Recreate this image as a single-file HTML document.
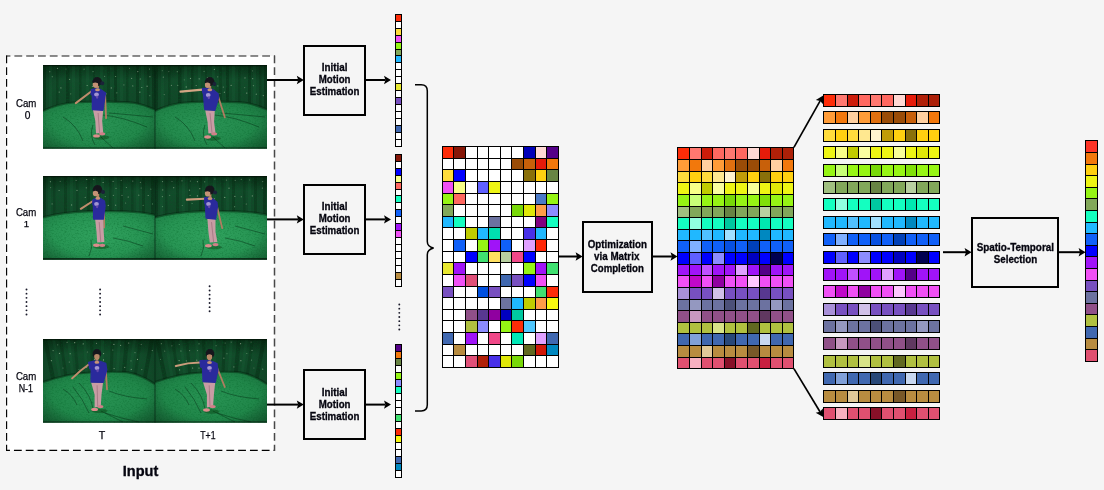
<!DOCTYPE html>
<html lang="en"><head><meta charset="utf-8"><title>Pipeline overview</title>
<style>html,body{margin:0;padding:0;background:#f5f5f5;}body{width:1104px;height:490px;overflow:hidden;}svg{display:block;font-family:'Liberation Sans', Arial, Helvetica, sans-serif;}</style>
</head><body>
<svg width="1104" height="490" viewBox="0 0 1104 490">
<defs>
<clipPath id="fclip"><rect x="0" y="0" width="112.00" height="83.80"/></clipPath>
<linearGradient id="curt" x1="0" y1="0" x2="0" y2="1"><stop offset="0" stop-color="#0a3219"/><stop offset="0.18" stop-color="#134b2b"/><stop offset="0.55" stop-color="#114527"/></linearGradient>
<radialGradient id="floor0" cx="0.45" cy="0.5" r="0.7"><stop offset="0" stop-color="#2a9556"/><stop offset="0.6" stop-color="#22884b"/><stop offset="1" stop-color="#196e3c"/></radialGradient>
<radialGradient id="floor1" cx="0.5" cy="0.5" r="0.7"><stop offset="0" stop-color="#30a25e"/><stop offset="0.6" stop-color="#279453"/><stop offset="1" stop-color="#1c7a43"/></radialGradient>
<radialGradient id="floor2" cx="0.5" cy="0.5" r="0.7"><stop offset="0" stop-color="#289454"/><stop offset="0.6" stop-color="#208649"/><stop offset="1" stop-color="#186a3a"/></radialGradient>
<radialGradient id="vig" cx="0.5" cy="0.5" r="0.75"><stop offset="0.62" stop-color="#000" stop-opacity="0"/><stop offset="1" stop-color="#001804" stop-opacity="0.3"/></radialGradient>
<filter id="grain" x="0" y="0" width="100%" height="100%"><feTurbulence type="fractalNoise" baseFrequency="0.55 0.7" numOctaves="2" seed="3" result="n"/><feColorMatrix in="n" type="matrix" values="0 0 0 0 0  0 0 0 0 0.12  0 0 0 0 0.02  0 0 0 1.6 -0.75"/></filter>
<filter id="soft" x="-10%" y="-10%" width="120%" height="120%"><feGaussianBlur stdDeviation="0.45"/></filter>
</defs>
<rect width="1104" height="490" fill="#f5f5f5"/>
<rect x="6.5" y="56" width="268" height="394.4" fill="#fff"/>
<path d="M6.2 56H274.9" fill="none" stroke="#1a1a1a" stroke-width="1.1" stroke-dasharray="7.8 4" stroke-dashoffset="3.6"/>
<path d="M6.2 450.4H274.9" fill="none" stroke="#000" stroke-width="1.2" stroke-dasharray="7.8 4" stroke-dashoffset="4.05"/>
<path d="M6.6 55.4V450.9" fill="none" stroke="#000" stroke-width="1.15" stroke-dasharray="7.8 4"/>
<path d="M274.5 55.4V450.9" fill="none" stroke="#484848" stroke-width="1.5" stroke-dasharray="7.8 4"/>
<g transform="translate(43.00 65.00)" clip-path="url(#fclip)">
<rect x="0" y="0" width="112.00" height="83.80" fill="url(#curt)"/>
<polygon points="0.0,0 3.0,0 3.0,50.0 0.0,50.0" fill="#03200c" opacity="0.35"/>
<polygon points="13.0,0 15.5,0 15.5,50.0 13.0,50.0" fill="#03200c" opacity="0.24"/>
<polygon points="23.0,0 26.5,0 26.5,50.0 23.0,50.0" fill="#03200c" opacity="0.35"/>
<polygon points="36.0,0 38.5,0 38.5,50.0 36.0,50.0" fill="#03200c" opacity="0.28"/>
<polygon points="50.0,0 52.0,0 52.0,50.0 50.0,50.0" fill="#03200c" opacity="0.21"/>
<polygon points="64.0,0 67.0,0 67.0,50.0 64.0,50.0" fill="#03200c" opacity="0.24"/>
<polygon points="71.0,0 74.0,0 74.0,50.0 71.0,50.0" fill="#03200c" opacity="0.35"/>
<polygon points="83.0,0 85.5,0 85.5,50.0 83.0,50.0" fill="#03200c" opacity="0.24"/>
<polygon points="93.0,0 96.0,0 96.0,50.0 93.0,50.0" fill="#03200c" opacity="0.32"/>
<polygon points="104.0,0 106.5,0 106.5,50.0 104.0,50.0" fill="#03200c" opacity="0.24"/>
<polygon points="109.0,0 112.0,0 112.0,50.0 109.0,50.0" fill="#03200c" opacity="0.35"/>
<polygon points="6.0,0 9.0,0 9.0,50.0 6.0,50.0" fill="#2c8050" opacity="0.12"/>
<polygon points="29.0,0 32.0,0 32.0,50.0 29.0,50.0" fill="#2c8050" opacity="0.12"/>
<polygon points="43.0,0 46.0,0 46.0,50.0 43.0,50.0" fill="#2c8050" opacity="0.12"/>
<polygon points="57.0,0 60.0,0 60.0,50.0 57.0,50.0" fill="#2c8050" opacity="0.12"/>
<polygon points="77.0,0 80.0,0 80.0,50.0 77.0,50.0" fill="#2c8050" opacity="0.12"/>
<polygon points="98.0,0 101.0,0 101.0,50.0 98.0,50.0" fill="#2c8050" opacity="0.12"/>
<circle cx="6.8" cy="6.7" r="0.62" fill="#b8d0b0" opacity="0.51"/>
<circle cx="9.3" cy="11.7" r="0.62" fill="#b8d0b0" opacity="0.53"/>
<circle cx="14.5" cy="3.4" r="0.62" fill="#b8d0b0" opacity="0.63"/>
<circle cx="17.9" cy="22.9" r="0.62" fill="#b8d0b0" opacity="0.58"/>
<circle cx="16.2" cy="27.1" r="0.62" fill="#b8d0b0" opacity="0.53"/>
<circle cx="23.0" cy="4.0" r="0.62" fill="#b8d0b0" opacity="0.36"/>
<circle cx="26.6" cy="14.4" r="0.62" fill="#b8d0b0" opacity="0.53"/>
<circle cx="27.7" cy="28.8" r="0.62" fill="#b8d0b0" opacity="0.45"/>
<circle cx="41.1" cy="4.2" r="0.62" fill="#b8d0b0" opacity="0.37"/>
<circle cx="44.2" cy="20.5" r="0.62" fill="#b8d0b0" opacity="0.69"/>
<circle cx="50.0" cy="6.6" r="0.62" fill="#b8d0b0" opacity="0.51"/>
<circle cx="49.4" cy="21.5" r="0.62" fill="#b8d0b0" opacity="0.62"/>
<circle cx="51.8" cy="28.3" r="0.62" fill="#b8d0b0" opacity="0.69"/>
<circle cx="61.6" cy="11.4" r="0.62" fill="#b8d0b0" opacity="0.37"/>
<circle cx="63.2" cy="28.8" r="0.62" fill="#b8d0b0" opacity="0.42"/>
<circle cx="72.6" cy="11.5" r="0.62" fill="#b8d0b0" opacity="0.50"/>
<circle cx="68.3" cy="22.9" r="0.62" fill="#b8d0b0" opacity="0.63"/>
<circle cx="73.8" cy="27.8" r="0.62" fill="#b8d0b0" opacity="0.49"/>
<circle cx="80.9" cy="19.9" r="0.62" fill="#b8d0b0" opacity="0.44"/>
<circle cx="86.5" cy="3.3" r="0.62" fill="#b8d0b0" opacity="0.38"/>
<circle cx="88.6" cy="13.4" r="0.62" fill="#b8d0b0" opacity="0.48"/>
<circle cx="89.8" cy="20.9" r="0.62" fill="#b8d0b0" opacity="0.55"/>
<circle cx="94.8" cy="6.6" r="0.62" fill="#b8d0b0" opacity="0.64"/>
<circle cx="97.3" cy="14.0" r="0.62" fill="#b8d0b0" opacity="0.68"/>
<circle cx="98.8" cy="22.5" r="0.62" fill="#b8d0b0" opacity="0.56"/>
<circle cx="96.9" cy="27.2" r="0.62" fill="#b8d0b0" opacity="0.69"/>
<circle cx="106.5" cy="4.0" r="0.62" fill="#b8d0b0" opacity="0.64"/>
<circle cx="106.9" cy="11.7" r="0.62" fill="#b8d0b0" opacity="0.60"/>
<circle cx="104.1" cy="21.2" r="0.62" fill="#b8d0b0" opacity="0.65"/>
<circle cx="106.8" cy="30.7" r="0.62" fill="#b8d0b0" opacity="0.42"/>
<path d="M0 46 C8 42 16 38.5 30 37.5 C50 36 80 36.5 92 38 C100 39.5 106 42 112.0 44.5 V83.8 H0Z" fill="url(#floor0)"/>
<path d="M0 46 C8 42 16 38.5 30 37.5 C50 36 80 36.5 92 38 C100 39.5 106 42 112.0 44.5" fill="none" stroke="#03200c" stroke-width="2.2" opacity="0.45"/>
<path d="M60.0 50.0 Q80.0 52.0 104.0 62.0" fill="none" stroke="#063016" stroke-width="0.9" opacity="0.55"/>
<path d="M58.0 72.0 Q62.0 76.0 70.0 83.0" fill="none" stroke="#063016" stroke-width="0.9" opacity="0.55"/>
<path d="M50.0 60.0 Q46.0 70.0 52.0 80.0" fill="none" stroke="#063016" stroke-width="0.9" opacity="0.55"/>
<path d="M66.0 48.0 Q90.0 50.0 110.0 52.0" fill="none" stroke="#063016" stroke-width="0.9" opacity="0.55"/>
<path d="M20.0 52.0 Q34.0 60.0 40.0 76.0" fill="none" stroke="#063016" stroke-width="0.9" opacity="0.55"/>
<rect x="0" y="0" width="112.00" height="83.80" filter="url(#grain)" opacity="0.55"/>
<rect x="0" y="0" width="112.00" height="83.80" fill="url(#vig)"/>
<rect x="0" y="0" width="112.00" height="1.2" fill="#021006" opacity="0.7"/>
<rect x="0" y="82.20" width="112.00" height="1.6" fill="#021006" opacity="0.45"/>
<g filter="url(#soft)"><ellipse cx="58.4" cy="72.4" rx="8" ry="2.2" fill="#04280e" opacity="0.35"/><path d="M48.5 26.2L32.8 38.1" stroke="#c08c6c" stroke-width="2.0" stroke-linecap="round" fill="none"/><path d="M62.1 30.2L63.1 53.1" stroke="#b07c60" stroke-width="1.8" stroke-linecap="round" fill="none"/><polygon points="50.0,45.0 60.2,45.0 59.2,55.9 60.2,67.8 53.0,68.5 52.3,55.9" fill="#c89ca4"/><path d="M55.1 48.0L56.6 67.8" stroke="#8e6470" stroke-width="0.8" opacity="0.7"/><ellipse cx="53.5" cy="70.9" rx="3.4" ry="1.7" fill="#dc8c8c"/><ellipse cx="59.2" cy="68.8" rx="3" ry="1.6" fill="#d08088"/><rect x="53.1" y="20.2" width="2.8" height="4.5" fill="#b88464"/><polygon points="48.5,24.8 53.0,23.6 57.5,24.5 62.5,28.1 61.8,32.0 59.9,45.2 49.4,44.5 49.4,30.0 48.3,29.5" fill="#2a2b9c" stroke="#2a2b9c" stroke-width="1.4" stroke-linejoin="round"/><ellipse cx="54.5" cy="24.8" rx="2.4" ry="1.5" fill="#c89474"/><ellipse cx="53.5" cy="29.5" rx="2.4" ry="2" fill="#c0b0e0" opacity="0.8"/><ellipse cx="54.1" cy="32.1" rx="1.2" ry="1.6" fill="#7050b0" opacity="0.8"/><ellipse cx="54.2" cy="16.6" rx="4.7" ry="4.5" fill="#15171c"/><circle cx="59.2" cy="18.3" r="2" fill="#1a2038"/><ellipse cx="52.4" cy="19.6" rx="2.7" ry="3.3" fill="#c49274"/><path d="M49.7 17.4q2.5 -1.6 5.5 0.2" stroke="#15171c" stroke-width="1.6" fill="none"/></g>
</g>
<g transform="translate(155.00 65.00)" clip-path="url(#fclip)">
<rect x="0" y="0" width="112.00" height="83.80" fill="url(#curt)"/>
<polygon points="0.0,0 3.0,0 3.0,50.0 0.0,50.0" fill="#03200c" opacity="0.35"/>
<polygon points="13.0,0 15.5,0 15.5,50.0 13.0,50.0" fill="#03200c" opacity="0.24"/>
<polygon points="23.0,0 26.5,0 26.5,50.0 23.0,50.0" fill="#03200c" opacity="0.35"/>
<polygon points="36.0,0 38.5,0 38.5,50.0 36.0,50.0" fill="#03200c" opacity="0.28"/>
<polygon points="50.0,0 52.0,0 52.0,50.0 50.0,50.0" fill="#03200c" opacity="0.21"/>
<polygon points="64.0,0 67.0,0 67.0,50.0 64.0,50.0" fill="#03200c" opacity="0.24"/>
<polygon points="71.0,0 74.0,0 74.0,50.0 71.0,50.0" fill="#03200c" opacity="0.35"/>
<polygon points="83.0,0 85.5,0 85.5,50.0 83.0,50.0" fill="#03200c" opacity="0.24"/>
<polygon points="93.0,0 96.0,0 96.0,50.0 93.0,50.0" fill="#03200c" opacity="0.32"/>
<polygon points="104.0,0 106.5,0 106.5,50.0 104.0,50.0" fill="#03200c" opacity="0.24"/>
<polygon points="109.0,0 112.0,0 112.0,50.0 109.0,50.0" fill="#03200c" opacity="0.35"/>
<polygon points="6.0,0 9.0,0 9.0,50.0 6.0,50.0" fill="#2c8050" opacity="0.12"/>
<polygon points="29.0,0 32.0,0 32.0,50.0 29.0,50.0" fill="#2c8050" opacity="0.12"/>
<polygon points="43.0,0 46.0,0 46.0,50.0 43.0,50.0" fill="#2c8050" opacity="0.12"/>
<polygon points="57.0,0 60.0,0 60.0,50.0 57.0,50.0" fill="#2c8050" opacity="0.12"/>
<polygon points="77.0,0 80.0,0 80.0,50.0 77.0,50.0" fill="#2c8050" opacity="0.12"/>
<polygon points="98.0,0 101.0,0 101.0,50.0 98.0,50.0" fill="#2c8050" opacity="0.12"/>
<circle cx="7.3" cy="5.7" r="0.62" fill="#b8d0b0" opacity="0.40"/>
<circle cx="8.3" cy="12.1" r="0.62" fill="#b8d0b0" opacity="0.63"/>
<circle cx="9.2" cy="29.6" r="0.62" fill="#b8d0b0" opacity="0.40"/>
<circle cx="13.8" cy="6.6" r="0.62" fill="#b8d0b0" opacity="0.37"/>
<circle cx="16.4" cy="20.3" r="0.62" fill="#b8d0b0" opacity="0.49"/>
<circle cx="22.3" cy="6.7" r="0.62" fill="#b8d0b0" opacity="0.53"/>
<circle cx="29.3" cy="14.8" r="0.62" fill="#b8d0b0" opacity="0.39"/>
<circle cx="22.7" cy="20.3" r="0.62" fill="#b8d0b0" opacity="0.57"/>
<circle cx="27.9" cy="27.2" r="0.62" fill="#b8d0b0" opacity="0.41"/>
<circle cx="35.5" cy="13.4" r="0.62" fill="#b8d0b0" opacity="0.52"/>
<circle cx="31.2" cy="21.9" r="0.62" fill="#b8d0b0" opacity="0.69"/>
<circle cx="44.2" cy="13.8" r="0.62" fill="#b8d0b0" opacity="0.59"/>
<circle cx="41.2" cy="20.5" r="0.62" fill="#b8d0b0" opacity="0.53"/>
<circle cx="49.1" cy="6.3" r="0.62" fill="#b8d0b0" opacity="0.50"/>
<circle cx="52.5" cy="12.7" r="0.62" fill="#b8d0b0" opacity="0.49"/>
<circle cx="54.1" cy="27.7" r="0.62" fill="#b8d0b0" opacity="0.59"/>
<circle cx="59.4" cy="4.4" r="0.62" fill="#b8d0b0" opacity="0.57"/>
<circle cx="62.7" cy="11.8" r="0.62" fill="#b8d0b0" opacity="0.45"/>
<circle cx="62.8" cy="20.9" r="0.62" fill="#b8d0b0" opacity="0.68"/>
<circle cx="65.0" cy="28.5" r="0.62" fill="#b8d0b0" opacity="0.42"/>
<circle cx="68.3" cy="22.1" r="0.62" fill="#b8d0b0" opacity="0.47"/>
<circle cx="69.4" cy="27.2" r="0.62" fill="#b8d0b0" opacity="0.57"/>
<circle cx="76.1" cy="20.3" r="0.62" fill="#b8d0b0" opacity="0.63"/>
<circle cx="90.0" cy="12.9" r="0.62" fill="#b8d0b0" opacity="0.57"/>
<circle cx="89.7" cy="22.6" r="0.62" fill="#b8d0b0" opacity="0.41"/>
<circle cx="91.8" cy="28.1" r="0.62" fill="#b8d0b0" opacity="0.68"/>
<circle cx="97.5" cy="5.8" r="0.62" fill="#b8d0b0" opacity="0.42"/>
<circle cx="97.7" cy="13.7" r="0.62" fill="#b8d0b0" opacity="0.59"/>
<circle cx="98.4" cy="20.7" r="0.62" fill="#b8d0b0" opacity="0.43"/>
<circle cx="101.3" cy="29.2" r="0.62" fill="#b8d0b0" opacity="0.57"/>
<circle cx="108.3" cy="30.6" r="0.62" fill="#b8d0b0" opacity="0.63"/>
<path d="M0 46 C8 42 16 38.5 30 37.5 C50 36 80 36.5 92 38 C100 39.5 106 42 112.0 44.5 V83.8 H0Z" fill="url(#floor0)"/>
<path d="M0 46 C8 42 16 38.5 30 37.5 C50 36 80 36.5 92 38 C100 39.5 106 42 112.0 44.5" fill="none" stroke="#03200c" stroke-width="2.2" opacity="0.45"/>
<path d="M60.0 50.0 Q80.0 52.0 104.0 62.0" fill="none" stroke="#063016" stroke-width="0.9" opacity="0.55"/>
<path d="M58.0 72.0 Q62.0 76.0 70.0 83.0" fill="none" stroke="#063016" stroke-width="0.9" opacity="0.55"/>
<path d="M50.0 60.0 Q46.0 70.0 52.0 80.0" fill="none" stroke="#063016" stroke-width="0.9" opacity="0.55"/>
<path d="M66.0 48.0 Q90.0 50.0 110.0 52.0" fill="none" stroke="#063016" stroke-width="0.9" opacity="0.55"/>
<path d="M20.0 52.0 Q34.0 60.0 40.0 76.0" fill="none" stroke="#063016" stroke-width="0.9" opacity="0.55"/>
<rect x="0" y="0" width="112.00" height="83.80" filter="url(#grain)" opacity="0.55"/>
<rect x="0" y="0" width="112.00" height="83.80" fill="url(#vig)"/>
<rect x="0" y="0" width="112.00" height="1.2" fill="#021006" opacity="0.7"/>
<rect x="0" y="82.20" width="112.00" height="1.6" fill="#021006" opacity="0.45"/>
<g filter="url(#soft)"><ellipse cx="57.9" cy="73.5" rx="8" ry="2.2" fill="#04280e" opacity="0.35"/><path d="M47.6 24.6L25.5 26.6" stroke="#d4a684" stroke-width="2.2" stroke-linecap="round" fill="none"/><path d="M63.2 31.6L69.8 52.3" stroke="#b07c60" stroke-width="1.8" stroke-linecap="round" fill="none"/><polygon points="50.2,45.2 59.8,45.2 59.1,57.3 60.5,67.8 53.4,68.5 52.6,57.3" fill="#c89ca4"/><path d="M55.0 48.2L57.0 67.8" stroke="#8e6470" stroke-width="0.8" opacity="0.7"/><ellipse cx="52.6" cy="72.0" rx="3.4" ry="1.7" fill="#dc8c8c"/><ellipse cx="59.1" cy="68.8" rx="3" ry="1.6" fill="#d08088"/><rect x="53.4" y="20.2" width="2.8" height="4.5" fill="#b88464"/><polygon points="47.6,23.5 53.0,23.4 58.0,24.8 63.1,28.8 63.4,33.1 59.8,45.2 49.8,44.5 48.5,29.0 47.7,27.3" fill="#2a2b9c" stroke="#2a2b9c" stroke-width="1.4" stroke-linejoin="round"/><ellipse cx="54.8" cy="24.8" rx="2.4" ry="1.5" fill="#c89474"/><ellipse cx="53.2" cy="30.0" rx="2.4" ry="2" fill="#c0b0e0" opacity="0.8"/><ellipse cx="53.8" cy="32.6" rx="1.2" ry="1.6" fill="#7050b0" opacity="0.8"/><ellipse cx="54.8" cy="16.6" rx="4.7" ry="4.5" fill="#15171c"/><circle cx="59.4" cy="19.1" r="2" fill="#1a2038"/><ellipse cx="52.6" cy="19.7" rx="2.7" ry="3.3" fill="#c49274"/><path d="M49.9 17.5q2.5 -1.6 5.5 0.2" stroke="#15171c" stroke-width="1.6" fill="none"/></g>
</g>
<rect x="154.6" y="65.0" width="0.8" height="83.8" fill="#052010" opacity="0.8"/>
<g transform="translate(43.00 176.00)" clip-path="url(#fclip)">
<rect x="0" y="0" width="112.00" height="83.80" fill="url(#curt)"/>
<polygon points="0.0,0 3.0,0 3.0,45.5 0.0,45.5" fill="#03200c" opacity="0.32"/>
<polygon points="10.0,0 12.5,0 12.5,45.5 10.0,45.5" fill="#03200c" opacity="0.21"/>
<polygon points="21.0,0 24.0,0 24.0,45.5 21.0,45.5" fill="#03200c" opacity="0.28"/>
<polygon points="33.0,0 35.5,0 35.5,45.5 33.0,45.5" fill="#03200c" opacity="0.21"/>
<polygon points="44.0,0 47.0,0 47.0,45.5 44.0,45.5" fill="#03200c" opacity="0.28"/>
<polygon points="66.0,0 68.5,0 68.5,45.5 66.0,45.5" fill="#03200c" opacity="0.21"/>
<polygon points="77.0,0 80.0,0 80.0,45.5 77.0,45.5" fill="#03200c" opacity="0.28"/>
<polygon points="88.0,0 90.5,0 90.5,45.5 88.0,45.5" fill="#03200c" opacity="0.21"/>
<polygon points="99.0,0 102.0,0 102.0,45.5 99.0,45.5" fill="#03200c" opacity="0.28"/>
<polygon points="108.0,0 111.0,0 111.0,45.5 108.0,45.5" fill="#03200c" opacity="0.35"/>
<polygon points="5.0,0 8.0,0 8.0,45.5 5.0,45.5" fill="#2c8050" opacity="0.12"/>
<polygon points="27.0,0 30.0,0 30.0,45.5 27.0,45.5" fill="#2c8050" opacity="0.12"/>
<polygon points="50.0,0 53.0,0 53.0,45.5 50.0,45.5" fill="#2c8050" opacity="0.12"/>
<polygon points="58.0,0 61.0,0 61.0,45.5 58.0,45.5" fill="#2c8050" opacity="0.12"/>
<polygon points="71.0,0 74.0,0 74.0,45.5 71.0,45.5" fill="#2c8050" opacity="0.12"/>
<polygon points="93.0,0 96.0,0 96.0,45.5 93.0,45.5" fill="#2c8050" opacity="0.12"/>
<circle cx="7.4" cy="5.7" r="0.62" fill="#b8d0b0" opacity="0.65"/>
<circle cx="7.6" cy="11.6" r="0.62" fill="#b8d0b0" opacity="0.43"/>
<circle cx="9.1" cy="27.9" r="0.62" fill="#b8d0b0" opacity="0.45"/>
<circle cx="17.2" cy="5.4" r="0.62" fill="#b8d0b0" opacity="0.36"/>
<circle cx="16.1" cy="14.5" r="0.62" fill="#b8d0b0" opacity="0.63"/>
<circle cx="28.6" cy="28.9" r="0.62" fill="#b8d0b0" opacity="0.61"/>
<circle cx="33.1" cy="4.5" r="0.62" fill="#b8d0b0" opacity="0.50"/>
<circle cx="34.0" cy="14.3" r="0.62" fill="#b8d0b0" opacity="0.63"/>
<circle cx="43.7" cy="3.5" r="0.62" fill="#b8d0b0" opacity="0.59"/>
<circle cx="43.3" cy="11.8" r="0.62" fill="#b8d0b0" opacity="0.53"/>
<circle cx="42.3" cy="21.4" r="0.62" fill="#b8d0b0" opacity="0.49"/>
<circle cx="44.9" cy="27.9" r="0.62" fill="#b8d0b0" opacity="0.43"/>
<circle cx="50.8" cy="3.3" r="0.62" fill="#b8d0b0" opacity="0.58"/>
<circle cx="52.6" cy="22.7" r="0.62" fill="#b8d0b0" opacity="0.37"/>
<circle cx="55.4" cy="30.4" r="0.62" fill="#b8d0b0" opacity="0.57"/>
<circle cx="60.1" cy="6.5" r="0.62" fill="#b8d0b0" opacity="0.66"/>
<circle cx="62.3" cy="20.5" r="0.62" fill="#b8d0b0" opacity="0.60"/>
<circle cx="65.3" cy="29.4" r="0.62" fill="#b8d0b0" opacity="0.60"/>
<circle cx="70.1" cy="5.3" r="0.62" fill="#b8d0b0" opacity="0.56"/>
<circle cx="73.0" cy="12.4" r="0.62" fill="#b8d0b0" opacity="0.45"/>
<circle cx="70.4" cy="19.4" r="0.62" fill="#b8d0b0" opacity="0.43"/>
<circle cx="72.6" cy="29.2" r="0.62" fill="#b8d0b0" opacity="0.54"/>
<circle cx="78.2" cy="4.4" r="0.62" fill="#b8d0b0" opacity="0.38"/>
<circle cx="83.4" cy="11.5" r="0.62" fill="#b8d0b0" opacity="0.46"/>
<circle cx="79.0" cy="19.3" r="0.62" fill="#b8d0b0" opacity="0.51"/>
<circle cx="82.6" cy="27.0" r="0.62" fill="#b8d0b0" opacity="0.47"/>
<circle cx="89.8" cy="5.1" r="0.62" fill="#b8d0b0" opacity="0.52"/>
<circle cx="85.2" cy="21.0" r="0.62" fill="#b8d0b0" opacity="0.67"/>
<circle cx="97.4" cy="6.4" r="0.62" fill="#b8d0b0" opacity="0.44"/>
<circle cx="98.2" cy="12.0" r="0.62" fill="#b8d0b0" opacity="0.45"/>
<circle cx="95.8" cy="19.2" r="0.62" fill="#b8d0b0" opacity="0.49"/>
<circle cx="100.2" cy="29.4" r="0.62" fill="#b8d0b0" opacity="0.35"/>
<circle cx="107.8" cy="13.2" r="0.62" fill="#b8d0b0" opacity="0.47"/>
<circle cx="105.2" cy="19.5" r="0.62" fill="#b8d0b0" opacity="0.65"/>
<circle cx="109.5" cy="27.9" r="0.62" fill="#b8d0b0" opacity="0.46"/>
<path d="M0 41.5 C10 38.5 24 36 45 35.3 C65 34.8 85 35.2 98 36.5 C104 37.2 108 38 112.0 38.8 V83.8 H0Z" fill="url(#floor1)"/>
<path d="M0 41.5 C10 38.5 24 36 45 35.3 C65 34.8 85 35.2 98 36.5 C104 37.2 108 38 112.0 38.8" fill="none" stroke="#03200c" stroke-width="2.2" opacity="0.45"/>
<path d="M80.0 50.0 Q95.0 54.0 110.0 58.0" fill="none" stroke="#063016" stroke-width="0.9" opacity="0.55"/>
<path d="M48.0 64.0 Q50.0 72.0 46.0 80.0" fill="none" stroke="#063016" stroke-width="0.9" opacity="0.55"/>
<path d="M70.0 62.0 Q84.0 64.0 100.0 70.0" fill="none" stroke="#063016" stroke-width="0.9" opacity="0.55"/>
<rect x="0" y="0" width="112.00" height="83.80" filter="url(#grain)" opacity="0.55"/>
<rect x="0" y="0" width="112.00" height="83.80" fill="url(#vig)"/>
<rect x="0" y="0" width="112.00" height="1.2" fill="#021006" opacity="0.7"/>
<rect x="0" y="82.20" width="112.00" height="1.6" fill="#021006" opacity="0.85"/>
<g filter="url(#soft)"><ellipse cx="58.4" cy="70.8" rx="8" ry="2.2" fill="#04280e" opacity="0.35"/><path d="M50.0 25.0L37.8 32.8" stroke="#c08c6c" stroke-width="2.0" stroke-linecap="round" fill="none"/><path d="M61.1 30.0L61.1 51.4" stroke="#b07c60" stroke-width="1.8" stroke-linecap="round" fill="none"/><polygon points="52.1,43.1 60.2,43.1 60.7,55.7 61.4,66.0 54.2,66.5 53.5,55.7" fill="#c89ca4"/><path d="M56.2 46.1L57.8 66.0" stroke="#8e6470" stroke-width="0.8" opacity="0.7"/><ellipse cx="53.5" cy="69.3" rx="3.4" ry="1.7" fill="#dc8c8c"/><ellipse cx="59.2" cy="69.3" rx="3" ry="1.6" fill="#d08088"/><rect x="53.4" y="17.6" width="2.8" height="4.5" fill="#b88464"/><polygon points="50.0,23.8 54.0,21.8 58.0,22.8 61.4,25.0 62.1,30.0 60.2,43.1 50.7,43.1 50.5,29.0 49.8,28.6" fill="#2a2b9c" stroke="#2a2b9c" stroke-width="1.4" stroke-linejoin="round"/><ellipse cx="54.8" cy="22.2" rx="2.4" ry="1.5" fill="#c89474"/><ellipse cx="53.5" cy="28.0" rx="2.4" ry="2" fill="#c0b0e0" opacity="0.8"/><ellipse cx="54.1" cy="30.6" rx="1.2" ry="1.6" fill="#7050b0" opacity="0.8"/><ellipse cx="54.5" cy="13.6" rx="4.7" ry="4.5" fill="#15171c"/><circle cx="60.0" cy="16.0" r="2" fill="#1a2038"/><ellipse cx="52.5" cy="17.0" rx="2.7" ry="3.3" fill="#c49274"/><path d="M49.8 14.8q2.5 -1.6 5.5 0.2" stroke="#15171c" stroke-width="1.6" fill="none"/></g>
</g>
<g transform="translate(155.00 176.00)" clip-path="url(#fclip)">
<rect x="0" y="0" width="112.00" height="83.80" fill="url(#curt)"/>
<polygon points="0.0,0 3.0,0 3.0,45.5 0.0,45.5" fill="#03200c" opacity="0.32"/>
<polygon points="10.0,0 12.5,0 12.5,45.5 10.0,45.5" fill="#03200c" opacity="0.21"/>
<polygon points="21.0,0 24.0,0 24.0,45.5 21.0,45.5" fill="#03200c" opacity="0.28"/>
<polygon points="33.0,0 35.5,0 35.5,45.5 33.0,45.5" fill="#03200c" opacity="0.21"/>
<polygon points="44.0,0 47.0,0 47.0,45.5 44.0,45.5" fill="#03200c" opacity="0.28"/>
<polygon points="66.0,0 68.5,0 68.5,45.5 66.0,45.5" fill="#03200c" opacity="0.21"/>
<polygon points="77.0,0 80.0,0 80.0,45.5 77.0,45.5" fill="#03200c" opacity="0.28"/>
<polygon points="88.0,0 90.5,0 90.5,45.5 88.0,45.5" fill="#03200c" opacity="0.21"/>
<polygon points="99.0,0 102.0,0 102.0,45.5 99.0,45.5" fill="#03200c" opacity="0.28"/>
<polygon points="108.0,0 111.0,0 111.0,45.5 108.0,45.5" fill="#03200c" opacity="0.35"/>
<polygon points="5.0,0 8.0,0 8.0,45.5 5.0,45.5" fill="#2c8050" opacity="0.12"/>
<polygon points="27.0,0 30.0,0 30.0,45.5 27.0,45.5" fill="#2c8050" opacity="0.12"/>
<polygon points="50.0,0 53.0,0 53.0,45.5 50.0,45.5" fill="#2c8050" opacity="0.12"/>
<polygon points="58.0,0 61.0,0 61.0,45.5 58.0,45.5" fill="#2c8050" opacity="0.12"/>
<polygon points="71.0,0 74.0,0 74.0,45.5 71.0,45.5" fill="#2c8050" opacity="0.12"/>
<polygon points="93.0,0 96.0,0 96.0,45.5 93.0,45.5" fill="#2c8050" opacity="0.12"/>
<circle cx="7.5" cy="5.6" r="0.62" fill="#b8d0b0" opacity="0.68"/>
<circle cx="7.7" cy="13.9" r="0.62" fill="#b8d0b0" opacity="0.58"/>
<circle cx="7.4" cy="20.6" r="0.62" fill="#b8d0b0" opacity="0.62"/>
<circle cx="7.5" cy="30.6" r="0.62" fill="#b8d0b0" opacity="0.48"/>
<circle cx="17.0" cy="5.5" r="0.62" fill="#b8d0b0" opacity="0.40"/>
<circle cx="18.7" cy="11.7" r="0.62" fill="#b8d0b0" opacity="0.58"/>
<circle cx="14.7" cy="19.3" r="0.62" fill="#b8d0b0" opacity="0.42"/>
<circle cx="27.0" cy="4.8" r="0.62" fill="#b8d0b0" opacity="0.56"/>
<circle cx="27.3" cy="29.5" r="0.62" fill="#b8d0b0" opacity="0.41"/>
<circle cx="35.4" cy="5.1" r="0.62" fill="#b8d0b0" opacity="0.42"/>
<circle cx="34.5" cy="14.2" r="0.62" fill="#b8d0b0" opacity="0.53"/>
<circle cx="35.1" cy="19.4" r="0.62" fill="#b8d0b0" opacity="0.45"/>
<circle cx="37.1" cy="27.5" r="0.62" fill="#b8d0b0" opacity="0.53"/>
<circle cx="42.4" cy="5.7" r="0.62" fill="#b8d0b0" opacity="0.54"/>
<circle cx="44.8" cy="12.7" r="0.62" fill="#b8d0b0" opacity="0.56"/>
<circle cx="42.4" cy="19.9" r="0.62" fill="#b8d0b0" opacity="0.65"/>
<circle cx="49.7" cy="5.8" r="0.62" fill="#b8d0b0" opacity="0.55"/>
<circle cx="54.9" cy="14.8" r="0.62" fill="#b8d0b0" opacity="0.50"/>
<circle cx="51.8" cy="22.8" r="0.62" fill="#b8d0b0" opacity="0.44"/>
<circle cx="52.3" cy="29.5" r="0.62" fill="#b8d0b0" opacity="0.51"/>
<circle cx="59.9" cy="3.1" r="0.62" fill="#b8d0b0" opacity="0.46"/>
<circle cx="59.4" cy="22.7" r="0.62" fill="#b8d0b0" opacity="0.48"/>
<circle cx="60.6" cy="27.6" r="0.62" fill="#b8d0b0" opacity="0.42"/>
<circle cx="71.4" cy="4.1" r="0.62" fill="#b8d0b0" opacity="0.44"/>
<circle cx="74.0" cy="12.2" r="0.62" fill="#b8d0b0" opacity="0.62"/>
<circle cx="69.8" cy="21.4" r="0.62" fill="#b8d0b0" opacity="0.68"/>
<circle cx="80.2" cy="4.5" r="0.62" fill="#b8d0b0" opacity="0.48"/>
<circle cx="79.9" cy="20.3" r="0.62" fill="#b8d0b0" opacity="0.67"/>
<circle cx="79.6" cy="30.7" r="0.62" fill="#b8d0b0" opacity="0.51"/>
<circle cx="86.3" cy="3.4" r="0.62" fill="#b8d0b0" opacity="0.42"/>
<circle cx="86.3" cy="20.8" r="0.62" fill="#b8d0b0" opacity="0.54"/>
<circle cx="91.3" cy="28.0" r="0.62" fill="#b8d0b0" opacity="0.48"/>
<circle cx="94.6" cy="3.9" r="0.62" fill="#b8d0b0" opacity="0.40"/>
<circle cx="97.3" cy="19.9" r="0.62" fill="#b8d0b0" opacity="0.58"/>
<circle cx="107.7" cy="5.6" r="0.62" fill="#b8d0b0" opacity="0.55"/>
<circle cx="107.4" cy="12.1" r="0.62" fill="#b8d0b0" opacity="0.51"/>
<path d="M0 41.5 C10 38.5 24 36 45 35.3 C65 34.8 85 35.2 98 36.5 C104 37.2 108 38 112.0 38.8 V83.8 H0Z" fill="url(#floor1)"/>
<path d="M0 41.5 C10 38.5 24 36 45 35.3 C65 34.8 85 35.2 98 36.5 C104 37.2 108 38 112.0 38.8" fill="none" stroke="#03200c" stroke-width="2.2" opacity="0.45"/>
<path d="M80.0 50.0 Q95.0 54.0 110.0 58.0" fill="none" stroke="#063016" stroke-width="0.9" opacity="0.55"/>
<path d="M48.0 64.0 Q50.0 72.0 46.0 80.0" fill="none" stroke="#063016" stroke-width="0.9" opacity="0.55"/>
<path d="M70.0 62.0 Q84.0 64.0 100.0 70.0" fill="none" stroke="#063016" stroke-width="0.9" opacity="0.55"/>
<rect x="0" y="0" width="112.00" height="83.80" filter="url(#grain)" opacity="0.55"/>
<rect x="0" y="0" width="112.00" height="83.80" fill="url(#vig)"/>
<rect x="0" y="0" width="112.00" height="1.2" fill="#021006" opacity="0.7"/>
<rect x="0" y="82.20" width="112.00" height="1.6" fill="#021006" opacity="0.85"/>
<g filter="url(#soft)"><ellipse cx="59.0" cy="71.2" rx="8" ry="2.2" fill="#04280e" opacity="0.35"/><path d="M49.8 22.7L31.9 23.6" stroke="#cc9c7c" stroke-width="2.1" stroke-linecap="round" fill="none"/><path d="M61.9 30.0L67.2 52.1" stroke="#b07c60" stroke-width="1.8" stroke-linecap="round" fill="none"/><polygon points="52.4,43.1 60.5,43.1 60.5,55.7 62.4,66.0 54.8,66.5 53.4,55.7" fill="#c89ca4"/><path d="M56.5 46.1L58.6 66.0" stroke="#8e6470" stroke-width="0.8" opacity="0.7"/><ellipse cx="53.4" cy="69.7" rx="3.4" ry="1.7" fill="#dc8c8c"/><ellipse cx="60.5" cy="68.6" rx="3" ry="1.6" fill="#d08088"/><rect x="53.6" y="18.0" width="2.8" height="4.5" fill="#b88464"/><polygon points="49.8,21.7 54.0,21.4 58.5,23.5 61.9,26.4 62.4,30.7 60.5,43.1 51.2,42.1 50.4,28.0 49.8,27.1" fill="#2a2b9c" stroke="#2a2b9c" stroke-width="1.4" stroke-linejoin="round"/><ellipse cx="55.0" cy="22.6" rx="2.4" ry="1.5" fill="#c89474"/><ellipse cx="53.5" cy="28.0" rx="2.4" ry="2" fill="#c0b0e0" opacity="0.8"/><ellipse cx="54.1" cy="30.6" rx="1.2" ry="1.6" fill="#7050b0" opacity="0.8"/><ellipse cx="54.8" cy="14.0" rx="4.7" ry="4.5" fill="#15171c"/><circle cx="60.1" cy="16.4" r="2" fill="#1a2038"/><ellipse cx="52.6" cy="17.3" rx="2.7" ry="3.3" fill="#c49274"/><path d="M49.9 15.1q2.5 -1.6 5.5 0.2" stroke="#15171c" stroke-width="1.6" fill="none"/></g>
</g>
<rect x="154.6" y="176.0" width="0.8" height="83.8" fill="#052010" opacity="0.8"/>
<g transform="translate(43.00 339.00)" clip-path="url(#fclip)">
<rect x="0" y="0" width="112.00" height="83.80" fill="url(#curt)"/>
<polygon points="0.0,0 4.0,0 14.0,49.0 10.0,49.0" fill="#03200c" opacity="0.35"/>
<polygon points="16.0,0 19.0,0 26.1,49.0 23.1,49.0" fill="#03200c" opacity="0.28"/>
<polygon points="30.0,0 33.0,0 37.6,49.0 34.6,49.0" fill="#03200c" opacity="0.24"/>
<polygon points="47.0,0 50.0,0 51.6,49.0 48.6,49.0" fill="#03200c" opacity="0.28"/>
<polygon points="68.0,0 71.0,0 68.9,49.0 65.9,49.0" fill="#03200c" opacity="0.28"/>
<polygon points="82.0,0 86.0,0 81.4,49.0 77.4,49.0" fill="#03200c" opacity="0.32"/>
<polygon points="96.0,0 99.0,0 91.9,49.0 88.9,49.0" fill="#03200c" opacity="0.24"/>
<polygon points="107.0,0 111.0,0 101.9,49.0 97.9,49.0" fill="#03200c" opacity="0.35"/>
<polygon points="9.0,0 12.0,0 20.4,49.0 17.4,49.0" fill="#2c8050" opacity="0.12"/>
<polygon points="24.0,0 27.0,0 32.7,49.0 29.7,49.0" fill="#2c8050" opacity="0.12"/>
<polygon points="40.0,0 43.0,0 45.9,49.0 42.9,49.0" fill="#2c8050" opacity="0.12"/>
<polygon points="58.0,0 61.0,0 60.6,49.0 57.6,49.0" fill="#2c8050" opacity="0.12"/>
<polygon points="75.0,0 78.0,0 74.6,49.0 71.6,49.0" fill="#2c8050" opacity="0.12"/>
<polygon points="90.0,0 93.0,0 86.9,49.0 83.9,49.0" fill="#2c8050" opacity="0.12"/>
<circle cx="10.1" cy="11.6" r="0.62" fill="#b8d0b0" opacity="0.70"/>
<circle cx="8.4" cy="21.7" r="0.62" fill="#b8d0b0" opacity="0.65"/>
<circle cx="14.7" cy="5.8" r="0.62" fill="#b8d0b0" opacity="0.45"/>
<circle cx="16.5" cy="14.4" r="0.62" fill="#b8d0b0" opacity="0.66"/>
<circle cx="20.0" cy="29.0" r="0.62" fill="#b8d0b0" opacity="0.43"/>
<circle cx="24.1" cy="3.3" r="0.62" fill="#b8d0b0" opacity="0.55"/>
<circle cx="27.2" cy="14.7" r="0.62" fill="#b8d0b0" opacity="0.58"/>
<circle cx="26.3" cy="23.0" r="0.62" fill="#b8d0b0" opacity="0.52"/>
<circle cx="31.7" cy="3.7" r="0.62" fill="#b8d0b0" opacity="0.68"/>
<circle cx="35.9" cy="30.5" r="0.62" fill="#b8d0b0" opacity="0.38"/>
<circle cx="40.2" cy="4.9" r="0.62" fill="#b8d0b0" opacity="0.64"/>
<circle cx="44.4" cy="13.0" r="0.62" fill="#b8d0b0" opacity="0.41"/>
<circle cx="43.6" cy="28.2" r="0.62" fill="#b8d0b0" opacity="0.64"/>
<circle cx="53.5" cy="4.3" r="0.62" fill="#b8d0b0" opacity="0.50"/>
<circle cx="55.9" cy="14.2" r="0.62" fill="#b8d0b0" opacity="0.52"/>
<circle cx="51.5" cy="20.5" r="0.62" fill="#b8d0b0" opacity="0.64"/>
<circle cx="60.6" cy="14.6" r="0.62" fill="#b8d0b0" opacity="0.68"/>
<circle cx="60.5" cy="20.9" r="0.62" fill="#b8d0b0" opacity="0.69"/>
<circle cx="60.7" cy="30.4" r="0.62" fill="#b8d0b0" opacity="0.55"/>
<circle cx="70.9" cy="5.4" r="0.62" fill="#b8d0b0" opacity="0.59"/>
<circle cx="69.8" cy="11.0" r="0.62" fill="#b8d0b0" opacity="0.47"/>
<circle cx="71.1" cy="29.5" r="0.62" fill="#b8d0b0" opacity="0.60"/>
<circle cx="77.6" cy="6.3" r="0.62" fill="#b8d0b0" opacity="0.63"/>
<circle cx="81.7" cy="28.4" r="0.62" fill="#b8d0b0" opacity="0.49"/>
<circle cx="85.7" cy="4.0" r="0.62" fill="#b8d0b0" opacity="0.70"/>
<circle cx="92.0" cy="13.7" r="0.62" fill="#b8d0b0" opacity="0.46"/>
<circle cx="88.0" cy="21.8" r="0.62" fill="#b8d0b0" opacity="0.47"/>
<circle cx="88.3" cy="30.4" r="0.62" fill="#b8d0b0" opacity="0.61"/>
<circle cx="98.2" cy="5.3" r="0.62" fill="#b8d0b0" opacity="0.47"/>
<circle cx="94.5" cy="20.4" r="0.62" fill="#b8d0b0" opacity="0.61"/>
<circle cx="98.8" cy="30.6" r="0.62" fill="#b8d0b0" opacity="0.49"/>
<circle cx="109.3" cy="11.6" r="0.62" fill="#b8d0b0" opacity="0.58"/>
<path d="M0 43 C8 40.5 18 37 32 35 C46 33 70 32.2 84 33.2 C96 35 104 40 112.0 45 V83.8 H0Z" fill="url(#floor2)"/>
<path d="M0 43 C8 40.5 18 37 32 35 C46 33 70 32.2 84 33.2 C96 35 104 40 112.0 45" fill="none" stroke="#03200c" stroke-width="2.2" opacity="0.45"/>
<path d="M30.0 48.0 Q40.0 60.0 46.0 74.0" fill="none" stroke="#063016" stroke-width="0.9" opacity="0.55"/>
<path d="M36.0 44.0 Q48.0 56.0 50.0 70.0" fill="none" stroke="#063016" stroke-width="0.9" opacity="0.55"/>
<path d="M58.0 72.0 Q70.0 78.0 80.0 83.0" fill="none" stroke="#063016" stroke-width="0.9" opacity="0.55"/>
<path d="M62.0 74.0 Q80.0 80.0 96.0 83.0" fill="none" stroke="#063016" stroke-width="0.9" opacity="0.55"/>
<path d="M20.0 50.0 Q30.0 56.0 34.0 66.0" fill="none" stroke="#063016" stroke-width="0.9" opacity="0.55"/>
<path d="M66.0 52.0 Q80.0 58.0 104.0 60.0" fill="none" stroke="#063016" stroke-width="0.9" opacity="0.55"/>
<rect x="0" y="0" width="112.00" height="83.80" filter="url(#grain)" opacity="0.55"/>
<rect x="0" y="0" width="112.00" height="83.80" fill="url(#vig)"/>
<rect x="0" y="0" width="112.00" height="1.2" fill="#021006" opacity="0.7"/>
<rect x="0" y="82.20" width="112.00" height="1.6" fill="#021006" opacity="0.45"/>
<g filter="url(#soft)"><ellipse cx="56.5" cy="71.9" rx="8" ry="2.2" fill="#04280e" opacity="0.35"/><path d="M45.7 25.5Q37.6 31.0 29.1 39.4" stroke="#c08c6c" stroke-width="2.0" stroke-linecap="round" fill="none"/><path d="M62.7 29.4L64.0 50.3" stroke="#b07c60" stroke-width="1.8" stroke-linecap="round" fill="none"/><polygon points="48.1,43.3 60.1,43.3 58.5,55.7 57.8,67.3 51.6,68.5 51.6,55.7" fill="#c89ca4"/><path d="M54.1 46.3L54.7 67.3" stroke="#8e6470" stroke-width="0.8" opacity="0.7"/><ellipse cx="51.6" cy="70.4" rx="3.4" ry="1.7" fill="#dc8c8c"/><ellipse cx="57.4" cy="67.6" rx="3" ry="1.6" fill="#d08088"/><rect x="52.5" y="18.6" width="2.8" height="4.5" fill="#b88464"/><polygon points="45.7,23.4 51.0,22.2 57.0,22.4 62.7,24.4 63.7,30.9 60.1,43.3 48.1,43.0 48.3,30.0 46.9,29.6" fill="#2a2b9c" stroke="#2a2b9c" stroke-width="1.4" stroke-linejoin="round"/><ellipse cx="53.9" cy="23.2" rx="2.4" ry="1.5" fill="#c89474"/><ellipse cx="54.0" cy="29.0" rx="2.4" ry="2" fill="#c0b0e0" opacity="0.8"/><ellipse cx="54.6" cy="31.6" rx="1.2" ry="1.6" fill="#7050b0" opacity="0.8"/><ellipse cx="53.9" cy="14.7" rx="4.4" ry="4.6" fill="#15171c"/><ellipse cx="53.9" cy="17.5" rx="2.7" ry="3.3" fill="#b88868"/><path d="M50.9 15.0q3 -2.2 6 0" stroke="#15171c" stroke-width="2" fill="none"/></g>
</g>
<g transform="translate(155.00 339.00)" clip-path="url(#fclip)">
<rect x="0" y="0" width="112.00" height="83.80" fill="url(#curt)"/>
<polygon points="0.0,0 4.0,0 14.0,49.0 10.0,49.0" fill="#03200c" opacity="0.35"/>
<polygon points="16.0,0 19.0,0 26.1,49.0 23.1,49.0" fill="#03200c" opacity="0.28"/>
<polygon points="30.0,0 33.0,0 37.6,49.0 34.6,49.0" fill="#03200c" opacity="0.24"/>
<polygon points="47.0,0 50.0,0 51.6,49.0 48.6,49.0" fill="#03200c" opacity="0.28"/>
<polygon points="68.0,0 71.0,0 68.9,49.0 65.9,49.0" fill="#03200c" opacity="0.28"/>
<polygon points="82.0,0 86.0,0 81.4,49.0 77.4,49.0" fill="#03200c" opacity="0.32"/>
<polygon points="96.0,0 99.0,0 91.9,49.0 88.9,49.0" fill="#03200c" opacity="0.24"/>
<polygon points="107.0,0 111.0,0 101.9,49.0 97.9,49.0" fill="#03200c" opacity="0.35"/>
<polygon points="9.0,0 12.0,0 20.4,49.0 17.4,49.0" fill="#2c8050" opacity="0.12"/>
<polygon points="24.0,0 27.0,0 32.7,49.0 29.7,49.0" fill="#2c8050" opacity="0.12"/>
<polygon points="40.0,0 43.0,0 45.9,49.0 42.9,49.0" fill="#2c8050" opacity="0.12"/>
<polygon points="58.0,0 61.0,0 60.6,49.0 57.6,49.0" fill="#2c8050" opacity="0.12"/>
<polygon points="75.0,0 78.0,0 74.6,49.0 71.6,49.0" fill="#2c8050" opacity="0.12"/>
<polygon points="90.0,0 93.0,0 86.9,49.0 83.9,49.0" fill="#2c8050" opacity="0.12"/>
<circle cx="6.4" cy="4.7" r="0.62" fill="#b8d0b0" opacity="0.51"/>
<circle cx="9.7" cy="12.0" r="0.62" fill="#b8d0b0" opacity="0.57"/>
<circle cx="5.5" cy="20.3" r="0.62" fill="#b8d0b0" opacity="0.40"/>
<circle cx="16.9" cy="6.8" r="0.62" fill="#b8d0b0" opacity="0.44"/>
<circle cx="24.3" cy="5.5" r="0.62" fill="#b8d0b0" opacity="0.45"/>
<circle cx="25.9" cy="12.0" r="0.62" fill="#b8d0b0" opacity="0.63"/>
<circle cx="24.1" cy="21.6" r="0.62" fill="#b8d0b0" opacity="0.68"/>
<circle cx="24.6" cy="30.9" r="0.62" fill="#b8d0b0" opacity="0.64"/>
<circle cx="34.6" cy="11.6" r="0.62" fill="#b8d0b0" opacity="0.46"/>
<circle cx="31.3" cy="21.8" r="0.62" fill="#b8d0b0" opacity="0.60"/>
<circle cx="37.6" cy="29.0" r="0.62" fill="#b8d0b0" opacity="0.67"/>
<circle cx="44.0" cy="4.8" r="0.62" fill="#b8d0b0" opacity="0.56"/>
<circle cx="42.5" cy="11.6" r="0.62" fill="#b8d0b0" opacity="0.43"/>
<circle cx="41.8" cy="21.2" r="0.62" fill="#b8d0b0" opacity="0.58"/>
<circle cx="44.0" cy="29.0" r="0.62" fill="#b8d0b0" opacity="0.68"/>
<circle cx="51.9" cy="27.4" r="0.62" fill="#b8d0b0" opacity="0.39"/>
<circle cx="61.1" cy="6.7" r="0.62" fill="#b8d0b0" opacity="0.39"/>
<circle cx="70.2" cy="4.0" r="0.62" fill="#b8d0b0" opacity="0.41"/>
<circle cx="72.0" cy="14.7" r="0.62" fill="#b8d0b0" opacity="0.39"/>
<circle cx="68.9" cy="19.2" r="0.62" fill="#b8d0b0" opacity="0.51"/>
<circle cx="76.2" cy="3.1" r="0.62" fill="#b8d0b0" opacity="0.42"/>
<circle cx="78.9" cy="27.9" r="0.62" fill="#b8d0b0" opacity="0.50"/>
<circle cx="85.6" cy="4.7" r="0.62" fill="#b8d0b0" opacity="0.64"/>
<circle cx="91.8" cy="14.5" r="0.62" fill="#b8d0b0" opacity="0.50"/>
<circle cx="85.9" cy="21.7" r="0.62" fill="#b8d0b0" opacity="0.64"/>
<circle cx="96.1" cy="3.1" r="0.62" fill="#b8d0b0" opacity="0.46"/>
<circle cx="97.0" cy="11.3" r="0.62" fill="#b8d0b0" opacity="0.70"/>
<circle cx="96.5" cy="21.1" r="0.62" fill="#b8d0b0" opacity="0.52"/>
<circle cx="98.9" cy="29.0" r="0.62" fill="#b8d0b0" opacity="0.38"/>
<circle cx="107.7" cy="30.2" r="0.62" fill="#b8d0b0" opacity="0.60"/>
<path d="M0 43 C8 40.5 18 37 32 35 C46 33 70 32.2 84 33.2 C96 35 104 40 112.0 45 V83.8 H0Z" fill="url(#floor2)"/>
<path d="M0 43 C8 40.5 18 37 32 35 C46 33 70 32.2 84 33.2 C96 35 104 40 112.0 45" fill="none" stroke="#03200c" stroke-width="2.2" opacity="0.45"/>
<path d="M30.0 48.0 Q40.0 60.0 46.0 74.0" fill="none" stroke="#063016" stroke-width="0.9" opacity="0.55"/>
<path d="M36.0 44.0 Q48.0 56.0 50.0 70.0" fill="none" stroke="#063016" stroke-width="0.9" opacity="0.55"/>
<path d="M58.0 72.0 Q70.0 78.0 80.0 83.0" fill="none" stroke="#063016" stroke-width="0.9" opacity="0.55"/>
<path d="M62.0 74.0 Q80.0 80.0 96.0 83.0" fill="none" stroke="#063016" stroke-width="0.9" opacity="0.55"/>
<path d="M20.0 50.0 Q30.0 56.0 34.0 66.0" fill="none" stroke="#063016" stroke-width="0.9" opacity="0.55"/>
<path d="M66.0 52.0 Q80.0 58.0 104.0 60.0" fill="none" stroke="#063016" stroke-width="0.9" opacity="0.55"/>
<rect x="0" y="0" width="112.00" height="83.80" filter="url(#grain)" opacity="0.55"/>
<rect x="0" y="0" width="112.00" height="83.80" fill="url(#vig)"/>
<rect x="0" y="0" width="112.00" height="1.2" fill="#021006" opacity="0.7"/>
<rect x="0" y="82.20" width="112.00" height="1.6" fill="#021006" opacity="0.45"/>
<g filter="url(#soft)"><ellipse cx="56.6" cy="72.5" rx="8" ry="2.2" fill="#04280e" opacity="0.35"/><path d="M45.0 23.5Q33.0 23.5 20.9 27.0" stroke="#cc9c7c" stroke-width="2.2" stroke-linecap="round" fill="none"/><path d="M62.3 29.4L69.8 48.0" stroke="#b07c60" stroke-width="1.8" stroke-linecap="round" fill="none"/><polygon points="48.1,43.3 60.2,43.3 58.9,55.7 58.1,67.3 51.9,68.5 51.9,55.7" fill="#c89ca4"/><path d="M54.2 46.3L55.0 67.3" stroke="#8e6470" stroke-width="0.8" opacity="0.7"/><ellipse cx="51.5" cy="71.0" rx="3.4" ry="1.7" fill="#dc8c8c"/><ellipse cx="57.7" cy="67.6" rx="3" ry="1.6" fill="#d08088"/><rect x="53.1" y="18.8" width="2.8" height="4.5" fill="#b88464"/><polygon points="45.0,21.6 51.0,21.4 57.5,22.6 62.0,24.7 62.8,31.7 60.2,43.3 48.1,42.5 47.6,29.0 45.7,27.8" fill="#2a2b9c" stroke="#2a2b9c" stroke-width="1.4" stroke-linejoin="round"/><ellipse cx="54.5" cy="23.4" rx="2.4" ry="1.5" fill="#c89474"/><ellipse cx="54.5" cy="29.0" rx="2.4" ry="2" fill="#c0b0e0" opacity="0.8"/><ellipse cx="55.1" cy="31.6" rx="1.2" ry="1.6" fill="#7050b0" opacity="0.8"/><ellipse cx="55.0" cy="14.7" rx="4.4" ry="4.6" fill="#15171c"/><ellipse cx="54.5" cy="17.8" rx="2.7" ry="3.3" fill="#b88868"/><path d="M51.5 15.3q3 -2.2 6 0" stroke="#15171c" stroke-width="2" fill="none"/></g>
</g>
<rect x="154.6" y="339.0" width="0.8" height="83.8" fill="#052010" opacity="0.8"/>
<text x="26.20" y="107.00" font-size="11.00" text-anchor="middle" fill="#05050f" stroke="#05050f" stroke-width="0.25" textLength="20.4" lengthAdjust="spacingAndGlyphs">Cam</text>
<text x="27.60" y="118.90" font-size="10.20" text-anchor="middle" fill="#05050f" stroke="#05050f" stroke-width="0.25">0</text>
<text x="26.10" y="215.80" font-size="11.00" text-anchor="middle" fill="#05050f" stroke="#05050f" stroke-width="0.25" textLength="20.4" lengthAdjust="spacingAndGlyphs">Cam</text>
<text x="26.30" y="226.90" font-size="9.60" text-anchor="middle" fill="#05050f" stroke="#05050f" stroke-width="0.25">1</text>
<text x="26.10" y="379.80" font-size="11.00" text-anchor="middle" fill="#05050f" stroke="#05050f" stroke-width="0.25" textLength="20.4" lengthAdjust="spacingAndGlyphs">Cam</text>
<text x="25.80" y="391.60" font-size="10.50" text-anchor="middle" fill="#05050f" stroke="#05050f" stroke-width="0.25" textLength="14.3" lengthAdjust="spacingAndGlyphs">N-1</text>
<text x="101.90" y="438.80" font-size="10.60" text-anchor="middle" fill="#05050f" stroke="#05050f" stroke-width="0.25">T</text>
<text x="207.90" y="438.80" font-size="11.00" text-anchor="middle" fill="#05050f" stroke="#05050f" stroke-width="0.25" textLength="15.2" lengthAdjust="spacingAndGlyphs">T+1</text>
<text x="140.50" y="475.80" font-size="14.50" font-weight="bold" text-anchor="middle" fill="#05050f" stroke="#05050f" stroke-width="0.32" textLength="35.5" lengthAdjust="spacingAndGlyphs">Input</text>
<circle cx="26.5" cy="289.50" r="0.95" fill="#1a1a2a"/>
<circle cx="26.5" cy="293.67" r="0.95" fill="#1a1a2a"/>
<circle cx="26.5" cy="297.83" r="0.95" fill="#1a1a2a"/>
<circle cx="26.5" cy="302.00" r="0.95" fill="#1a1a2a"/>
<circle cx="26.5" cy="306.17" r="0.95" fill="#1a1a2a"/>
<circle cx="26.5" cy="310.33" r="0.95" fill="#1a1a2a"/>
<circle cx="26.5" cy="314.50" r="0.95" fill="#1a1a2a"/>
<circle cx="100.1" cy="289.50" r="0.95" fill="#1a1a2a"/>
<circle cx="100.1" cy="293.67" r="0.95" fill="#1a1a2a"/>
<circle cx="100.1" cy="297.83" r="0.95" fill="#1a1a2a"/>
<circle cx="100.1" cy="302.00" r="0.95" fill="#1a1a2a"/>
<circle cx="100.1" cy="306.17" r="0.95" fill="#1a1a2a"/>
<circle cx="100.1" cy="310.33" r="0.95" fill="#1a1a2a"/>
<circle cx="100.1" cy="314.50" r="0.95" fill="#1a1a2a"/>
<circle cx="209.6" cy="286.30" r="0.95" fill="#1a1a2a"/>
<circle cx="209.6" cy="290.47" r="0.95" fill="#1a1a2a"/>
<circle cx="209.6" cy="294.63" r="0.95" fill="#1a1a2a"/>
<circle cx="209.6" cy="298.80" r="0.95" fill="#1a1a2a"/>
<circle cx="209.6" cy="302.97" r="0.95" fill="#1a1a2a"/>
<circle cx="209.6" cy="307.13" r="0.95" fill="#1a1a2a"/>
<circle cx="209.6" cy="311.30" r="0.95" fill="#1a1a2a"/>
<circle cx="399.3" cy="304.50" r="0.95" fill="#1a1a2a"/>
<circle cx="399.3" cy="308.67" r="0.95" fill="#1a1a2a"/>
<circle cx="399.3" cy="312.83" r="0.95" fill="#1a1a2a"/>
<circle cx="399.3" cy="317.00" r="0.95" fill="#1a1a2a"/>
<circle cx="399.3" cy="321.17" r="0.95" fill="#1a1a2a"/>
<circle cx="399.3" cy="325.33" r="0.95" fill="#1a1a2a"/>
<circle cx="399.3" cy="329.50" r="0.95" fill="#1a1a2a"/>
<rect x="304" y="46" width="61" height="69" fill="none" stroke="#000" stroke-width="2"/>
<text x="334.60" y="70.85" font-size="11.00" font-weight="bold" text-anchor="middle" fill="#05050f" stroke="#05050f" stroke-width="0.32" textLength="25.7" lengthAdjust="spacingAndGlyphs">Initial</text>
<text x="334.60" y="82.85" font-size="11.00" font-weight="bold" text-anchor="middle" fill="#05050f" stroke="#05050f" stroke-width="0.32" textLength="31.7" lengthAdjust="spacingAndGlyphs">Motion</text>
<text x="334.60" y="94.65" font-size="11.00" font-weight="bold" text-anchor="middle" fill="#05050f" stroke="#05050f" stroke-width="0.32" textLength="49.7" lengthAdjust="spacingAndGlyphs">Estimation</text>
<path d="M267.00 80.00L298.20 80.00" stroke="#000" stroke-width="2.00" fill="none"/><path d="M303.80 80.00L296.80 84.20L298.20 80.00L296.80 75.80Z" fill="#000"/>
<path d="M366.00 80.00L385.40 80.00" stroke="#000" stroke-width="2.00" fill="none"/><path d="M391.00 80.00L384.00 84.20L385.40 80.00L384.00 75.80Z" fill="#000"/>
<rect x="304" y="185" width="61" height="69" fill="none" stroke="#000" stroke-width="2"/>
<text x="334.60" y="210.30" font-size="11.00" font-weight="bold" text-anchor="middle" fill="#05050f" stroke="#05050f" stroke-width="0.32" textLength="25.7" lengthAdjust="spacingAndGlyphs">Initial</text>
<text x="334.60" y="222.30" font-size="11.00" font-weight="bold" text-anchor="middle" fill="#05050f" stroke="#05050f" stroke-width="0.32" textLength="31.7" lengthAdjust="spacingAndGlyphs">Motion</text>
<text x="334.60" y="234.10" font-size="11.00" font-weight="bold" text-anchor="middle" fill="#05050f" stroke="#05050f" stroke-width="0.32" textLength="49.7" lengthAdjust="spacingAndGlyphs">Estimation</text>
<path d="M267.00 219.40L298.20 219.40" stroke="#000" stroke-width="2.00" fill="none"/><path d="M303.80 219.40L296.80 223.60L298.20 219.40L296.80 215.20Z" fill="#000"/>
<path d="M366.00 219.40L385.40 219.40" stroke="#000" stroke-width="2.00" fill="none"/><path d="M391.00 219.40L384.00 223.60L385.40 219.40L384.00 215.20Z" fill="#000"/>
<rect x="304" y="370" width="61" height="69" fill="none" stroke="#000" stroke-width="2"/>
<text x="334.60" y="395.70" font-size="11.00" font-weight="bold" text-anchor="middle" fill="#05050f" stroke="#05050f" stroke-width="0.32" textLength="25.7" lengthAdjust="spacingAndGlyphs">Initial</text>
<text x="334.60" y="407.70" font-size="11.00" font-weight="bold" text-anchor="middle" fill="#05050f" stroke="#05050f" stroke-width="0.32" textLength="31.7" lengthAdjust="spacingAndGlyphs">Motion</text>
<text x="334.60" y="419.50" font-size="11.00" font-weight="bold" text-anchor="middle" fill="#05050f" stroke="#05050f" stroke-width="0.32" textLength="49.7" lengthAdjust="spacingAndGlyphs">Estimation</text>
<path d="M267.00 404.60L298.20 404.60" stroke="#000" stroke-width="2.00" fill="none"/><path d="M303.80 404.60L296.80 408.80L298.20 404.60L296.80 400.40Z" fill="#000"/>
<path d="M366.00 404.60L385.40 404.60" stroke="#000" stroke-width="2.00" fill="none"/><path d="M391.00 404.60L384.00 408.80L385.40 404.60L384.00 400.40Z" fill="#000"/>
<rect x="395" y="14" width="7" height="8" fill="#fd2c08"/>
<rect x="395" y="21" width="7" height="8" fill="#ffffff"/>
<rect x="395" y="28" width="7" height="8" fill="#ffdc3c"/>
<rect x="395" y="35" width="7" height="8" fill="#f050f5"/>
<rect x="395" y="42" width="7" height="8" fill="#96f514"/>
<rect x="395" y="49" width="7" height="7" fill="#82a85a"/>
<rect x="395" y="55" width="7" height="8" fill="#20b8ff"/>
<rect x="395" y="62" width="7" height="8" fill="#ffffff"/>
<rect x="395" y="69" width="7" height="8" fill="#ffffff"/>
<rect x="395" y="76" width="7" height="8" fill="#ffffff"/>
<rect x="395" y="83" width="7" height="8" fill="#e8e830"/>
<rect x="395" y="90" width="7" height="8" fill="#ffffff"/>
<rect x="395" y="97" width="7" height="8" fill="#7850c0"/>
<rect x="395" y="104" width="7" height="8" fill="#ffffff"/>
<rect x="395" y="111" width="7" height="8" fill="#ffffff"/>
<rect x="395" y="118" width="7" height="8" fill="#ffffff"/>
<rect x="395" y="125" width="7" height="8" fill="#4068b0"/>
<rect x="395" y="132" width="7" height="8" fill="#ffffff"/>
<rect x="395" y="139" width="7" height="8" fill="#ffffff"/>
<path d="M395 14.5H402M395 21.5H402M395 28.5H402M395 35.5H402M395 42.5H402M395 49.5H402M395 55.5H402M395 62.5H402M395 69.5H402M395 76.5H402M395 83.5H402M395 90.5H402M395 97.5H402M395 104.5H402M395 111.5H402M395 118.5H402M395 125.5H402M395 132.5H402M395 139.5H402M395 146.5H402M395.5 14V147M401.5 14V147" stroke="#000" stroke-width="1.00" fill="none"/>
<rect x="395" y="154" width="7" height="8" fill="#861607"/>
<rect x="395" y="161" width="7" height="8" fill="#ffffff"/>
<rect x="395" y="168" width="7" height="8" fill="#0000ff"/>
<rect x="395" y="175" width="7" height="8" fill="#f8ff88"/>
<rect x="395" y="182" width="7" height="8" fill="#ff6860"/>
<rect x="395" y="189" width="7" height="7" fill="#ffffff"/>
<rect x="395" y="195" width="7" height="8" fill="#14ffc0"/>
<rect x="395" y="202" width="7" height="8" fill="#ffffff"/>
<rect x="395" y="209" width="7" height="8" fill="#1060f8"/>
<rect x="395" y="216" width="7" height="8" fill="#ffffff"/>
<rect x="395" y="223" width="7" height="8" fill="#a014f8"/>
<rect x="395" y="230" width="7" height="8" fill="#f050f5"/>
<rect x="395" y="237" width="7" height="8" fill="#ffffff"/>
<rect x="395" y="244" width="7" height="8" fill="#ffffff"/>
<rect x="395" y="251" width="7" height="8" fill="#ffffff"/>
<rect x="395" y="258" width="7" height="8" fill="#ffffff"/>
<rect x="395" y="265" width="7" height="8" fill="#ffffff"/>
<rect x="395" y="272" width="7" height="8" fill="#b88c40"/>
<rect x="395" y="279" width="7" height="8" fill="#ffffff"/>
<path d="M395 154.5H402M395 161.5H402M395 168.5H402M395 175.5H402M395 182.5H402M395 189.5H402M395 195.5H402M395 202.5H402M395 209.5H402M395 216.5H402M395 223.5H402M395 230.5H402M395 237.5H402M395 244.5H402M395 251.5H402M395 258.5H402M395 265.5H402M395 272.5H402M395 279.5H402M395 286.5H402M395.5 154V287M401.5 154V287" stroke="#000" stroke-width="1.00" fill="none"/>
<rect x="395" y="344" width="7" height="8" fill="#540088"/>
<rect x="395" y="351" width="7" height="8" fill="#f2780c"/>
<rect x="395" y="358" width="7" height="8" fill="#688444"/>
<rect x="395" y="365" width="7" height="8" fill="#ffffff"/>
<rect x="395" y="372" width="7" height="8" fill="#96f514"/>
<rect x="395" y="379" width="7" height="8" fill="#8c8cff"/>
<rect x="395" y="386" width="7" height="8" fill="#14ffc0"/>
<rect x="395" y="393" width="7" height="8" fill="#ffffff"/>
<rect x="395" y="400" width="7" height="8" fill="#ffffff"/>
<rect x="395" y="407" width="7" height="8" fill="#ffffff"/>
<rect x="395" y="414" width="7" height="8" fill="#40e070"/>
<rect x="395" y="421" width="7" height="8" fill="#ffffff"/>
<rect x="395" y="428" width="7" height="8" fill="#fd2c08"/>
<rect x="395" y="435" width="7" height="8" fill="#f8f810"/>
<rect x="395" y="442" width="7" height="8" fill="#ffffff"/>
<rect x="395" y="449" width="7" height="8" fill="#ffffff"/>
<rect x="395" y="456" width="7" height="8" fill="#4068b0"/>
<rect x="395" y="463" width="7" height="8" fill="#0088c0"/>
<rect x="395" y="470" width="7" height="8" fill="#ffffff"/>
<path d="M395 344.5H402M395 351.5H402M395 358.5H402M395 365.5H402M395 372.5H402M395 379.5H402M395 386.5H402M395 393.5H402M395 400.5H402M395 407.5H402M395 414.5H402M395 421.5H402M395 428.5H402M395 435.5H402M395 442.5H402M395 449.5H402M395 456.5H402M395 463.5H402M395 470.5H402M395 477.5H402M395.5 344V478M401.5 344V478" stroke="#000" stroke-width="1.00" fill="none"/>
<path d="M415 84.8H421.2Q427.3 84.8 427.3 91V241.5Q427.3 246.6 433.6 248.1Q427.3 249.6 427.3 254.7V404.7Q427.3 410.9 421.2 410.9H415" fill="none" stroke="#000" stroke-width="1.5"/>
<rect x="442" y="146" width="12" height="13" fill="#fd2c08"/>
<rect x="453" y="146" width="13" height="13" fill="#861607"/>
<rect x="465" y="146" width="13" height="13" fill="#ffffff"/>
<rect x="477" y="146" width="12" height="13" fill="#ffffff"/>
<rect x="488" y="146" width="13" height="13" fill="#ffffff"/>
<rect x="500" y="146" width="12" height="13" fill="#ffffff"/>
<rect x="511" y="146" width="13" height="13" fill="#ffffff"/>
<rect x="523" y="146" width="13" height="13" fill="#0000b8"/>
<rect x="535" y="146" width="12" height="13" fill="#ffd9d4"/>
<rect x="546" y="146" width="13" height="13" fill="#540088"/>
<rect x="442" y="158" width="12" height="12" fill="#ffffff"/>
<rect x="453" y="158" width="13" height="12" fill="#ffffff"/>
<rect x="465" y="158" width="13" height="12" fill="#ffffff"/>
<rect x="477" y="158" width="12" height="12" fill="#ffffff"/>
<rect x="488" y="158" width="13" height="12" fill="#ffffff"/>
<rect x="500" y="158" width="12" height="12" fill="#ffffff"/>
<rect x="511" y="158" width="13" height="12" fill="#9a4c07"/>
<rect x="523" y="158" width="13" height="12" fill="#c8600a"/>
<rect x="535" y="158" width="12" height="12" fill="#e61b0a"/>
<rect x="546" y="158" width="13" height="12" fill="#f2780c"/>
<rect x="442" y="169" width="12" height="13" fill="#ffdc3c"/>
<rect x="453" y="169" width="13" height="13" fill="#0000ff"/>
<rect x="465" y="169" width="13" height="13" fill="#ffffff"/>
<rect x="477" y="169" width="12" height="13" fill="#ffffff"/>
<rect x="488" y="169" width="13" height="13" fill="#ffffff"/>
<rect x="500" y="169" width="12" height="13" fill="#ffffff"/>
<rect x="511" y="169" width="13" height="13" fill="#ffffff"/>
<rect x="523" y="169" width="13" height="13" fill="#8a700a"/>
<rect x="535" y="169" width="12" height="13" fill="#ffd010"/>
<rect x="546" y="169" width="13" height="13" fill="#688444"/>
<rect x="442" y="181" width="12" height="13" fill="#f050f5"/>
<rect x="453" y="181" width="13" height="13" fill="#f8ff88"/>
<rect x="465" y="181" width="13" height="13" fill="#ffffff"/>
<rect x="477" y="181" width="12" height="13" fill="#6060ff"/>
<rect x="488" y="181" width="13" height="13" fill="#eef514"/>
<rect x="500" y="181" width="12" height="13" fill="#ffffff"/>
<rect x="511" y="181" width="13" height="13" fill="#ffffff"/>
<rect x="523" y="181" width="13" height="13" fill="#ffffff"/>
<rect x="535" y="181" width="12" height="13" fill="#ffffff"/>
<rect x="546" y="181" width="13" height="13" fill="#ffffff"/>
<rect x="442" y="193" width="12" height="12" fill="#96f514"/>
<rect x="453" y="193" width="13" height="12" fill="#ff6860"/>
<rect x="465" y="193" width="13" height="12" fill="#ffffff"/>
<rect x="477" y="193" width="12" height="12" fill="#ffffff"/>
<rect x="488" y="193" width="13" height="12" fill="#ffffff"/>
<rect x="500" y="193" width="12" height="12" fill="#ffffff"/>
<rect x="511" y="193" width="13" height="12" fill="#ffffff"/>
<rect x="523" y="193" width="13" height="12" fill="#ffffff"/>
<rect x="535" y="193" width="12" height="12" fill="#4a7ac8"/>
<rect x="546" y="193" width="13" height="12" fill="#96f514"/>
<rect x="442" y="204" width="12" height="13" fill="#82a85a"/>
<rect x="453" y="204" width="13" height="13" fill="#ffffff"/>
<rect x="465" y="204" width="13" height="13" fill="#ffffff"/>
<rect x="477" y="204" width="12" height="13" fill="#ffffff"/>
<rect x="488" y="204" width="13" height="13" fill="#ffffff"/>
<rect x="500" y="204" width="12" height="13" fill="#ffffff"/>
<rect x="511" y="204" width="13" height="13" fill="#78d808"/>
<rect x="523" y="204" width="13" height="13" fill="#e0e808"/>
<rect x="535" y="204" width="12" height="13" fill="#ff9c48"/>
<rect x="546" y="204" width="13" height="13" fill="#8c8cff"/>
<rect x="442" y="216" width="12" height="12" fill="#20b8ff"/>
<rect x="453" y="216" width="13" height="12" fill="#14ffc0"/>
<rect x="465" y="216" width="13" height="12" fill="#ffffff"/>
<rect x="477" y="216" width="12" height="12" fill="#ffffff"/>
<rect x="488" y="216" width="13" height="12" fill="#6c72a0"/>
<rect x="500" y="216" width="12" height="12" fill="#ffffff"/>
<rect x="511" y="216" width="13" height="12" fill="#ffffff"/>
<rect x="523" y="216" width="13" height="12" fill="#ffffff"/>
<rect x="535" y="216" width="12" height="12" fill="#800080"/>
<rect x="546" y="216" width="13" height="12" fill="#14ffc0"/>
<rect x="442" y="227" width="12" height="13" fill="#ffffff"/>
<rect x="453" y="227" width="13" height="13" fill="#ffffff"/>
<rect x="465" y="227" width="13" height="13" fill="#c0cc00"/>
<rect x="477" y="227" width="12" height="13" fill="#20b8ff"/>
<rect x="488" y="227" width="13" height="13" fill="#00e0b0"/>
<rect x="500" y="227" width="12" height="13" fill="#ffffff"/>
<rect x="511" y="227" width="13" height="13" fill="#ffffff"/>
<rect x="523" y="227" width="13" height="13" fill="#4830e8"/>
<rect x="535" y="227" width="12" height="13" fill="#20b8ff"/>
<rect x="546" y="227" width="13" height="13" fill="#ffffff"/>
<rect x="442" y="239" width="12" height="13" fill="#ffffff"/>
<rect x="453" y="239" width="13" height="13" fill="#1060f8"/>
<rect x="465" y="239" width="13" height="13" fill="#ffffff"/>
<rect x="477" y="239" width="12" height="13" fill="#96f514"/>
<rect x="488" y="239" width="13" height="13" fill="#a014f8"/>
<rect x="500" y="239" width="12" height="13" fill="#1060f8"/>
<rect x="511" y="239" width="13" height="13" fill="#ffffff"/>
<rect x="523" y="239" width="13" height="13" fill="#e0a0ff"/>
<rect x="535" y="239" width="12" height="13" fill="#ff2808"/>
<rect x="546" y="239" width="13" height="13" fill="#ffffff"/>
<rect x="442" y="251" width="12" height="12" fill="#ffffff"/>
<rect x="453" y="251" width="13" height="12" fill="#ffffff"/>
<rect x="465" y="251" width="13" height="12" fill="#0000ff"/>
<rect x="477" y="251" width="12" height="12" fill="#40e070"/>
<rect x="488" y="251" width="13" height="12" fill="#ffe060"/>
<rect x="500" y="251" width="12" height="12" fill="#b8d0a0"/>
<rect x="511" y="251" width="13" height="12" fill="#f04888"/>
<rect x="523" y="251" width="13" height="12" fill="#0000ff"/>
<rect x="535" y="251" width="12" height="12" fill="#ffffff"/>
<rect x="546" y="251" width="13" height="12" fill="#ffffff"/>
<rect x="442" y="262" width="12" height="13" fill="#e8e830"/>
<rect x="453" y="262" width="13" height="13" fill="#a014f8"/>
<rect x="465" y="262" width="13" height="13" fill="#ffffff"/>
<rect x="477" y="262" width="12" height="13" fill="#ffffff"/>
<rect x="488" y="262" width="13" height="13" fill="#ffffff"/>
<rect x="500" y="262" width="12" height="13" fill="#ffffff"/>
<rect x="511" y="262" width="13" height="13" fill="#ffffff"/>
<rect x="523" y="262" width="13" height="13" fill="#96f514"/>
<rect x="535" y="262" width="12" height="13" fill="#a014f8"/>
<rect x="546" y="262" width="13" height="13" fill="#40e070"/>
<rect x="442" y="274" width="12" height="13" fill="#ffffff"/>
<rect x="453" y="274" width="13" height="13" fill="#f050f5"/>
<rect x="465" y="274" width="13" height="13" fill="#e05078"/>
<rect x="477" y="274" width="12" height="13" fill="#ffffff"/>
<rect x="488" y="274" width="13" height="13" fill="#ffffff"/>
<rect x="500" y="274" width="12" height="13" fill="#4068b0"/>
<rect x="511" y="274" width="13" height="13" fill="#7850c0"/>
<rect x="523" y="274" width="13" height="13" fill="#0000ff"/>
<rect x="535" y="274" width="12" height="13" fill="#f050f5"/>
<rect x="546" y="274" width="13" height="13" fill="#ffffff"/>
<rect x="442" y="286" width="12" height="12" fill="#7850c0"/>
<rect x="453" y="286" width="13" height="12" fill="#ffffff"/>
<rect x="465" y="286" width="13" height="12" fill="#ffffff"/>
<rect x="477" y="286" width="12" height="12" fill="#0050e0"/>
<rect x="488" y="286" width="13" height="12" fill="#7850c0"/>
<rect x="500" y="286" width="12" height="12" fill="#ffffff"/>
<rect x="511" y="286" width="13" height="12" fill="#ffffff"/>
<rect x="523" y="286" width="13" height="12" fill="#ffffff"/>
<rect x="535" y="286" width="12" height="12" fill="#40e070"/>
<rect x="546" y="286" width="13" height="12" fill="#fd2c08"/>
<rect x="442" y="297" width="12" height="13" fill="#ffffff"/>
<rect x="453" y="297" width="13" height="13" fill="#ffffff"/>
<rect x="465" y="297" width="13" height="13" fill="#ffffff"/>
<rect x="477" y="297" width="12" height="13" fill="#ffffff"/>
<rect x="488" y="297" width="13" height="13" fill="#ffffff"/>
<rect x="500" y="297" width="12" height="13" fill="#6c72a0"/>
<rect x="511" y="297" width="13" height="13" fill="#20b8ff"/>
<rect x="523" y="297" width="13" height="13" fill="#c0cc00"/>
<rect x="535" y="297" width="12" height="13" fill="#ff9c48"/>
<rect x="546" y="297" width="13" height="13" fill="#f8f810"/>
<rect x="442" y="309" width="12" height="12" fill="#ffffff"/>
<rect x="453" y="309" width="13" height="12" fill="#ffffff"/>
<rect x="465" y="309" width="13" height="12" fill="#905088"/>
<rect x="477" y="309" width="12" height="12" fill="#583890"/>
<rect x="488" y="309" width="13" height="12" fill="#9000a0"/>
<rect x="500" y="309" width="12" height="12" fill="#0000c0"/>
<rect x="511" y="309" width="13" height="12" fill="#00c8a0"/>
<rect x="523" y="309" width="13" height="12" fill="#ffffff"/>
<rect x="535" y="309" width="12" height="12" fill="#ffffff"/>
<rect x="546" y="309" width="13" height="12" fill="#ffffff"/>
<rect x="442" y="320" width="12" height="13" fill="#ffffff"/>
<rect x="453" y="320" width="13" height="13" fill="#ffffff"/>
<rect x="465" y="320" width="13" height="13" fill="#b0c040"/>
<rect x="477" y="320" width="12" height="13" fill="#8c8cff"/>
<rect x="488" y="320" width="13" height="13" fill="#ffffff"/>
<rect x="500" y="320" width="12" height="13" fill="#96f514"/>
<rect x="511" y="320" width="13" height="13" fill="#fd2c08"/>
<rect x="523" y="320" width="13" height="13" fill="#50c8ff"/>
<rect x="535" y="320" width="12" height="13" fill="#ffffff"/>
<rect x="546" y="320" width="13" height="13" fill="#ffffff"/>
<rect x="442" y="332" width="12" height="13" fill="#4068b0"/>
<rect x="453" y="332" width="13" height="13" fill="#ffffff"/>
<rect x="465" y="332" width="13" height="13" fill="#a014f8"/>
<rect x="477" y="332" width="12" height="13" fill="#ffffff"/>
<rect x="488" y="332" width="13" height="13" fill="#f04888"/>
<rect x="500" y="332" width="12" height="13" fill="#ffffff"/>
<rect x="511" y="332" width="13" height="13" fill="#00e8b8"/>
<rect x="523" y="332" width="13" height="13" fill="#ffffff"/>
<rect x="535" y="332" width="12" height="13" fill="#e0a0ff"/>
<rect x="546" y="332" width="13" height="13" fill="#4068b0"/>
<rect x="442" y="344" width="12" height="12" fill="#ffffff"/>
<rect x="453" y="344" width="13" height="12" fill="#b88c40"/>
<rect x="465" y="344" width="13" height="12" fill="#ffffff"/>
<rect x="477" y="344" width="12" height="12" fill="#ffffff"/>
<rect x="488" y="344" width="13" height="12" fill="#ffffff"/>
<rect x="500" y="344" width="12" height="12" fill="#ffffff"/>
<rect x="511" y="344" width="13" height="12" fill="#ffffff"/>
<rect x="523" y="344" width="13" height="12" fill="#606820"/>
<rect x="535" y="344" width="12" height="12" fill="#d01808"/>
<rect x="546" y="344" width="13" height="12" fill="#0088c0"/>
<rect x="442" y="355" width="12" height="13" fill="#ffffff"/>
<rect x="453" y="355" width="13" height="13" fill="#ffffff"/>
<rect x="465" y="355" width="13" height="13" fill="#e05078"/>
<rect x="477" y="355" width="12" height="13" fill="#b02008"/>
<rect x="488" y="355" width="13" height="13" fill="#4830e8"/>
<rect x="500" y="355" width="12" height="13" fill="#e0e808"/>
<rect x="511" y="355" width="13" height="13" fill="#78d808"/>
<rect x="523" y="355" width="13" height="13" fill="#ffffff"/>
<rect x="535" y="355" width="12" height="13" fill="#ffffff"/>
<rect x="546" y="355" width="13" height="13" fill="#ffffff"/>
<path d="M442 146.5H559M442 158.5H559M442 169.5H559M442 181.5H559M442 193.5H559M442 204.5H559M442 216.5H559M442 227.5H559M442 239.5H559M442 251.5H559M442 262.5H559M442 274.5H559M442 286.5H559M442 297.5H559M442 309.5H559M442 320.5H559M442 332.5H559M442 344.5H559M442 355.5H559M442 367.5H559M442.5 146V368M453.5 146V368M465.5 146V368M477.5 146V368M488.5 146V368M500.5 146V368M511.5 146V368M523.5 146V368M535.5 146V368M546.5 146V368M558.5 146V368" stroke="#000" stroke-width="1.00" fill="none"/>
<path d="M559.00 256.50L577.00 256.50" stroke="#000" stroke-width="2.00" fill="none"/><path d="M582.60 256.50L575.60 260.70L577.00 256.50L575.60 252.30Z" fill="#000"/>
<rect x="583" y="222" width="69" height="70" fill="none" stroke="#000" stroke-width="2"/>
<text x="617.30" y="247.70" font-size="11.00" font-weight="bold" text-anchor="middle" fill="#05050f" stroke="#05050f" stroke-width="0.32" textLength="59.2" lengthAdjust="spacingAndGlyphs">Optimization</text>
<text x="616.70" y="259.60" font-size="11.00" font-weight="bold" text-anchor="middle" fill="#05050f" stroke="#05050f" stroke-width="0.32" textLength="45.3" lengthAdjust="spacingAndGlyphs">via Matrix</text>
<text x="617.30" y="271.50" font-size="11.00" font-weight="bold" text-anchor="middle" fill="#05050f" stroke="#05050f" stroke-width="0.32" textLength="53.0" lengthAdjust="spacingAndGlyphs">Completion</text>
<path d="M653.00 256.50L671.90 256.50" stroke="#000" stroke-width="2.00" fill="none"/><path d="M677.50 256.50L670.50 260.70L671.90 256.50L670.50 252.30Z" fill="#000"/>
<rect x="677" y="147" width="13" height="13" fill="#fd2c08"/>
<rect x="689" y="147" width="13" height="13" fill="#ff7870"/>
<rect x="701" y="147" width="12" height="13" fill="#cc1c0a"/>
<rect x="712" y="147" width="13" height="13" fill="#ff6860"/>
<rect x="724" y="147" width="12" height="13" fill="#ff7870"/>
<rect x="735" y="147" width="13" height="13" fill="#ff6860"/>
<rect x="747" y="147" width="13" height="13" fill="#ffd9d4"/>
<rect x="759" y="147" width="12" height="13" fill="#e61b0a"/>
<rect x="770" y="147" width="13" height="13" fill="#b02008"/>
<rect x="782" y="147" width="12" height="13" fill="#ac2008"/>
<rect x="677" y="159" width="13" height="13" fill="#ff9c38"/>
<rect x="689" y="159" width="13" height="13" fill="#f2780c"/>
<rect x="701" y="159" width="12" height="13" fill="#ffd0a0"/>
<rect x="712" y="159" width="13" height="13" fill="#ff9c38"/>
<rect x="724" y="159" width="12" height="13" fill="#e07010"/>
<rect x="735" y="159" width="13" height="13" fill="#9a4c07"/>
<rect x="747" y="159" width="13" height="13" fill="#9a4c07"/>
<rect x="759" y="159" width="12" height="13" fill="#c8600a"/>
<rect x="770" y="159" width="13" height="13" fill="#ffd0a0"/>
<rect x="782" y="159" width="12" height="13" fill="#f2780c"/>
<rect x="677" y="171" width="13" height="12" fill="#ffdc3c"/>
<rect x="689" y="171" width="13" height="12" fill="#ffd010"/>
<rect x="701" y="171" width="12" height="12" fill="#ffdc3c"/>
<rect x="712" y="171" width="13" height="12" fill="#ffe890"/>
<rect x="724" y="171" width="12" height="12" fill="#fff4d0"/>
<rect x="735" y="171" width="13" height="12" fill="#c09c08"/>
<rect x="747" y="171" width="13" height="12" fill="#ffd010"/>
<rect x="759" y="171" width="12" height="12" fill="#8a700a"/>
<rect x="770" y="171" width="13" height="12" fill="#ffd010"/>
<rect x="782" y="171" width="12" height="12" fill="#ffd010"/>
<rect x="677" y="182" width="13" height="13" fill="#eef514"/>
<rect x="689" y="182" width="13" height="13" fill="#f8ff88"/>
<rect x="701" y="182" width="12" height="13" fill="#c0cc00"/>
<rect x="712" y="182" width="13" height="13" fill="#faffa0"/>
<rect x="724" y="182" width="12" height="13" fill="#eef514"/>
<rect x="735" y="182" width="13" height="13" fill="#eef514"/>
<rect x="747" y="182" width="13" height="13" fill="#f8ff98"/>
<rect x="759" y="182" width="12" height="13" fill="#eef514"/>
<rect x="770" y="182" width="13" height="13" fill="#e0e808"/>
<rect x="782" y="182" width="12" height="13" fill="#eef514"/>
<rect x="677" y="194" width="13" height="13" fill="#96f514"/>
<rect x="689" y="194" width="13" height="13" fill="#c8ff78"/>
<rect x="701" y="194" width="12" height="13" fill="#96f514"/>
<rect x="712" y="194" width="13" height="13" fill="#96f514"/>
<rect x="724" y="194" width="12" height="13" fill="#78d808"/>
<rect x="735" y="194" width="13" height="13" fill="#96f514"/>
<rect x="747" y="194" width="13" height="13" fill="#96f514"/>
<rect x="759" y="194" width="12" height="13" fill="#80e008"/>
<rect x="770" y="194" width="13" height="13" fill="#96f514"/>
<rect x="782" y="194" width="12" height="13" fill="#96f514"/>
<rect x="677" y="206" width="13" height="12" fill="#a0c080"/>
<rect x="689" y="206" width="13" height="12" fill="#82a85a"/>
<rect x="701" y="206" width="12" height="12" fill="#82a85a"/>
<rect x="712" y="206" width="13" height="12" fill="#82a85a"/>
<rect x="724" y="206" width="12" height="12" fill="#688444"/>
<rect x="735" y="206" width="13" height="12" fill="#82a85a"/>
<rect x="747" y="206" width="13" height="12" fill="#82a85a"/>
<rect x="759" y="206" width="12" height="12" fill="#b8d0a0"/>
<rect x="770" y="206" width="13" height="12" fill="#82a85a"/>
<rect x="782" y="206" width="12" height="12" fill="#82a85a"/>
<rect x="677" y="217" width="13" height="13" fill="#14ffc0"/>
<rect x="689" y="217" width="13" height="13" fill="#90ffe0"/>
<rect x="701" y="217" width="12" height="13" fill="#14ffc0"/>
<rect x="712" y="217" width="13" height="13" fill="#14ffc0"/>
<rect x="724" y="217" width="12" height="13" fill="#00c8a0"/>
<rect x="735" y="217" width="13" height="13" fill="#14ffc0"/>
<rect x="747" y="217" width="13" height="13" fill="#14ffc0"/>
<rect x="759" y="217" width="12" height="13" fill="#00e8b0"/>
<rect x="770" y="217" width="13" height="13" fill="#14ffc0"/>
<rect x="782" y="217" width="12" height="13" fill="#14ffc0"/>
<rect x="677" y="229" width="13" height="12" fill="#20b8ff"/>
<rect x="689" y="229" width="13" height="12" fill="#20b8ff"/>
<rect x="701" y="229" width="12" height="12" fill="#50c0ff"/>
<rect x="712" y="229" width="13" height="12" fill="#20b8ff"/>
<rect x="724" y="229" width="12" height="12" fill="#a0e0ff"/>
<rect x="735" y="229" width="13" height="12" fill="#20b8ff"/>
<rect x="747" y="229" width="13" height="12" fill="#20b8ff"/>
<rect x="759" y="229" width="12" height="12" fill="#0088c0"/>
<rect x="770" y="229" width="13" height="12" fill="#20b8ff"/>
<rect x="782" y="229" width="12" height="12" fill="#20b8ff"/>
<rect x="677" y="240" width="13" height="13" fill="#1060f8"/>
<rect x="689" y="240" width="13" height="13" fill="#80b0ff"/>
<rect x="701" y="240" width="12" height="13" fill="#1060f8"/>
<rect x="712" y="240" width="13" height="13" fill="#1060f8"/>
<rect x="724" y="240" width="12" height="13" fill="#0850e0"/>
<rect x="735" y="240" width="13" height="13" fill="#1060f8"/>
<rect x="747" y="240" width="13" height="13" fill="#0040b8"/>
<rect x="759" y="240" width="12" height="13" fill="#1060f8"/>
<rect x="770" y="240" width="13" height="13" fill="#1060f8"/>
<rect x="782" y="240" width="12" height="13" fill="#1060f8"/>
<rect x="677" y="252" width="13" height="13" fill="#0000ff"/>
<rect x="689" y="252" width="13" height="13" fill="#6060ff"/>
<rect x="701" y="252" width="12" height="13" fill="#0000ff"/>
<rect x="712" y="252" width="13" height="13" fill="#8c8cff"/>
<rect x="724" y="252" width="12" height="13" fill="#0000ff"/>
<rect x="735" y="252" width="13" height="13" fill="#0000ff"/>
<rect x="747" y="252" width="13" height="13" fill="#0000c0"/>
<rect x="759" y="252" width="12" height="13" fill="#0000ff"/>
<rect x="770" y="252" width="13" height="13" fill="#000050"/>
<rect x="782" y="252" width="12" height="13" fill="#0000ff"/>
<rect x="677" y="264" width="13" height="12" fill="#a014f8"/>
<rect x="689" y="264" width="13" height="12" fill="#a014f8"/>
<rect x="701" y="264" width="12" height="12" fill="#c050ff"/>
<rect x="712" y="264" width="13" height="12" fill="#a014f8"/>
<rect x="724" y="264" width="12" height="12" fill="#a014f8"/>
<rect x="735" y="264" width="13" height="12" fill="#e0a0ff"/>
<rect x="747" y="264" width="13" height="12" fill="#a014f8"/>
<rect x="759" y="264" width="12" height="12" fill="#540088"/>
<rect x="770" y="264" width="13" height="12" fill="#a014f8"/>
<rect x="782" y="264" width="12" height="12" fill="#a014f8"/>
<rect x="677" y="275" width="13" height="13" fill="#f050f5"/>
<rect x="689" y="275" width="13" height="13" fill="#c008c8"/>
<rect x="701" y="275" width="12" height="13" fill="#f050f5"/>
<rect x="712" y="275" width="13" height="13" fill="#9000a0"/>
<rect x="724" y="275" width="12" height="13" fill="#f050f5"/>
<rect x="735" y="275" width="13" height="13" fill="#f050f5"/>
<rect x="747" y="275" width="13" height="13" fill="#ffc8ff"/>
<rect x="759" y="275" width="12" height="13" fill="#f050f5"/>
<rect x="770" y="275" width="13" height="13" fill="#f050f5"/>
<rect x="782" y="275" width="12" height="13" fill="#f050f5"/>
<rect x="677" y="287" width="13" height="13" fill="#a890d8"/>
<rect x="689" y="287" width="13" height="13" fill="#7850c0"/>
<rect x="701" y="287" width="12" height="13" fill="#7850c0"/>
<rect x="712" y="287" width="13" height="13" fill="#d0c0e8"/>
<rect x="724" y="287" width="12" height="13" fill="#7850c0"/>
<rect x="735" y="287" width="13" height="13" fill="#7850c0"/>
<rect x="747" y="287" width="13" height="13" fill="#7850c0"/>
<rect x="759" y="287" width="12" height="13" fill="#583890"/>
<rect x="770" y="287" width="13" height="13" fill="#7850c0"/>
<rect x="782" y="287" width="12" height="13" fill="#7850c0"/>
<rect x="677" y="299" width="13" height="12" fill="#6c72a0"/>
<rect x="689" y="299" width="13" height="12" fill="#9498c0"/>
<rect x="701" y="299" width="12" height="12" fill="#6c72a0"/>
<rect x="712" y="299" width="13" height="12" fill="#6c72a0"/>
<rect x="724" y="299" width="12" height="12" fill="#4c5078"/>
<rect x="735" y="299" width="13" height="12" fill="#6c72a0"/>
<rect x="747" y="299" width="13" height="12" fill="#6c72a0"/>
<rect x="759" y="299" width="12" height="12" fill="#6c72a0"/>
<rect x="770" y="299" width="13" height="12" fill="#9498c0"/>
<rect x="782" y="299" width="12" height="12" fill="#6c72a0"/>
<rect x="677" y="310" width="13" height="13" fill="#905088"/>
<rect x="689" y="310" width="13" height="13" fill="#c898c0"/>
<rect x="701" y="310" width="12" height="13" fill="#905088"/>
<rect x="712" y="310" width="13" height="13" fill="#905088"/>
<rect x="724" y="310" width="12" height="13" fill="#905088"/>
<rect x="735" y="310" width="13" height="13" fill="#905088"/>
<rect x="747" y="310" width="13" height="13" fill="#905088"/>
<rect x="759" y="310" width="12" height="13" fill="#603860"/>
<rect x="770" y="310" width="13" height="13" fill="#905088"/>
<rect x="782" y="310" width="12" height="13" fill="#905088"/>
<rect x="677" y="322" width="13" height="12" fill="#b0c040"/>
<rect x="689" y="322" width="13" height="12" fill="#b0c040"/>
<rect x="701" y="322" width="12" height="12" fill="#b0c040"/>
<rect x="712" y="322" width="13" height="12" fill="#d8e488"/>
<rect x="724" y="322" width="12" height="12" fill="#b0c040"/>
<rect x="735" y="322" width="13" height="12" fill="#b0c040"/>
<rect x="747" y="322" width="13" height="12" fill="#606820"/>
<rect x="759" y="322" width="12" height="12" fill="#b0c040"/>
<rect x="770" y="322" width="13" height="12" fill="#b0c040"/>
<rect x="782" y="322" width="12" height="12" fill="#b0c040"/>
<rect x="677" y="333" width="13" height="13" fill="#4068b0"/>
<rect x="689" y="333" width="13" height="13" fill="#80a0d8"/>
<rect x="701" y="333" width="12" height="13" fill="#4068b0"/>
<rect x="712" y="333" width="13" height="13" fill="#4068b0"/>
<rect x="724" y="333" width="12" height="13" fill="#284878"/>
<rect x="735" y="333" width="13" height="13" fill="#4068b0"/>
<rect x="747" y="333" width="13" height="13" fill="#4068b0"/>
<rect x="759" y="333" width="12" height="13" fill="#c8d8f0"/>
<rect x="770" y="333" width="13" height="13" fill="#4068b0"/>
<rect x="782" y="333" width="12" height="13" fill="#4068b0"/>
<rect x="677" y="345" width="13" height="13" fill="#b88c40"/>
<rect x="689" y="345" width="13" height="13" fill="#b88c40"/>
<rect x="701" y="345" width="12" height="13" fill="#e0c898"/>
<rect x="712" y="345" width="13" height="13" fill="#b88c40"/>
<rect x="724" y="345" width="12" height="13" fill="#b88c40"/>
<rect x="735" y="345" width="13" height="13" fill="#b88c40"/>
<rect x="747" y="345" width="13" height="13" fill="#785828"/>
<rect x="759" y="345" width="12" height="13" fill="#b88c40"/>
<rect x="770" y="345" width="13" height="13" fill="#b88c40"/>
<rect x="782" y="345" width="12" height="13" fill="#b88c40"/>
<rect x="677" y="357" width="13" height="12" fill="#e05070"/>
<rect x="689" y="357" width="13" height="12" fill="#f8b0c0"/>
<rect x="701" y="357" width="12" height="12" fill="#e05070"/>
<rect x="712" y="357" width="13" height="12" fill="#e05070"/>
<rect x="724" y="357" width="12" height="12" fill="#881028"/>
<rect x="735" y="357" width="13" height="12" fill="#e05070"/>
<rect x="747" y="357" width="13" height="12" fill="#e05070"/>
<rect x="759" y="357" width="12" height="12" fill="#c82040"/>
<rect x="770" y="357" width="13" height="12" fill="#e05070"/>
<rect x="782" y="357" width="12" height="12" fill="#e05070"/>
<path d="M677 147.5H794M677 159.5H794M677 171.5H794M677 182.5H794M677 194.5H794M677 206.5H794M677 217.5H794M677 229.5H794M677 240.5H794M677 252.5H794M677 264.5H794M677 275.5H794M677 287.5H794M677 299.5H794M677 310.5H794M677 322.5H794M677 333.5H794M677 345.5H794M677 357.5H794M677 368.5H794M677.5 147V369M689.5 147V369M701.5 147V369M712.5 147V369M724.5 147V369M735.5 147V369M747.5 147V369M759.5 147V369M770.5 147V369M782.5 147V369M793.5 147V369" stroke="#000" stroke-width="1.00" fill="none"/>
<path d="M793.90 147.40L820.15 100.90" stroke="#000" stroke-width="1.70" fill="none"/><path d="M823.20 95.50L823.12 104.18L820.15 100.90L815.81 100.05Z" fill="#000"/>
<path d="M793.90 368.60L819.99 411.79" stroke="#000" stroke-width="1.70" fill="none"/><path d="M823.20 417.10L815.68 412.77L819.99 411.79L822.87 408.42Z" fill="#000"/>
<rect x="823" y="94" width="13" height="13" fill="#fd2c08"/>
<rect x="835" y="94" width="13" height="13" fill="#ff7870"/>
<rect x="847" y="94" width="12" height="13" fill="#cc1c0a"/>
<rect x="858" y="94" width="13" height="13" fill="#ff6860"/>
<rect x="870" y="94" width="12" height="13" fill="#ff7870"/>
<rect x="881" y="94" width="13" height="13" fill="#ff6860"/>
<rect x="893" y="94" width="13" height="13" fill="#ffd9d4"/>
<rect x="905" y="94" width="12" height="13" fill="#e61b0a"/>
<rect x="916" y="94" width="13" height="13" fill="#b02008"/>
<rect x="928" y="94" width="12" height="13" fill="#ac2008"/>
<path d="M823 94.5H940M823 106.5H940M823.5 94V107M835.5 94V107M847.5 94V107M858.5 94V107M870.5 94V107M881.5 94V107M893.5 94V107M905.5 94V107M916.5 94V107M928.5 94V107M939.5 94V107" stroke="#000" stroke-width="1.00" fill="none"/>
<rect x="823" y="111" width="13" height="13" fill="#ff9c38"/>
<rect x="835" y="111" width="13" height="13" fill="#f2780c"/>
<rect x="847" y="111" width="12" height="13" fill="#ffd0a0"/>
<rect x="858" y="111" width="13" height="13" fill="#ff9c38"/>
<rect x="870" y="111" width="12" height="13" fill="#e07010"/>
<rect x="881" y="111" width="13" height="13" fill="#9a4c07"/>
<rect x="893" y="111" width="13" height="13" fill="#9a4c07"/>
<rect x="905" y="111" width="12" height="13" fill="#c8600a"/>
<rect x="916" y="111" width="13" height="13" fill="#ffd0a0"/>
<rect x="928" y="111" width="12" height="13" fill="#f2780c"/>
<path d="M823 111.5H940M823 123.5H940M823.5 111V124M835.5 111V124M847.5 111V124M858.5 111V124M870.5 111V124M881.5 111V124M893.5 111V124M905.5 111V124M916.5 111V124M928.5 111V124M939.5 111V124" stroke="#000" stroke-width="1.00" fill="none"/>
<rect x="823" y="129" width="13" height="13" fill="#ffdc3c"/>
<rect x="835" y="129" width="13" height="13" fill="#ffd010"/>
<rect x="847" y="129" width="12" height="13" fill="#ffdc3c"/>
<rect x="858" y="129" width="13" height="13" fill="#ffe890"/>
<rect x="870" y="129" width="12" height="13" fill="#fff4d0"/>
<rect x="881" y="129" width="13" height="13" fill="#c09c08"/>
<rect x="893" y="129" width="13" height="13" fill="#ffd010"/>
<rect x="905" y="129" width="12" height="13" fill="#8a700a"/>
<rect x="916" y="129" width="13" height="13" fill="#ffd010"/>
<rect x="928" y="129" width="12" height="13" fill="#ffd010"/>
<path d="M823 129.5H940M823 141.5H940M823.5 129V142M835.5 129V142M847.5 129V142M858.5 129V142M870.5 129V142M881.5 129V142M893.5 129V142M905.5 129V142M916.5 129V142M928.5 129V142M939.5 129V142" stroke="#000" stroke-width="1.00" fill="none"/>
<rect x="823" y="146" width="13" height="13" fill="#eef514"/>
<rect x="835" y="146" width="13" height="13" fill="#f8ff88"/>
<rect x="847" y="146" width="12" height="13" fill="#c0cc00"/>
<rect x="858" y="146" width="13" height="13" fill="#faffa0"/>
<rect x="870" y="146" width="12" height="13" fill="#eef514"/>
<rect x="881" y="146" width="13" height="13" fill="#eef514"/>
<rect x="893" y="146" width="13" height="13" fill="#f8ff98"/>
<rect x="905" y="146" width="12" height="13" fill="#eef514"/>
<rect x="916" y="146" width="13" height="13" fill="#e0e808"/>
<rect x="928" y="146" width="12" height="13" fill="#eef514"/>
<path d="M823 146.5H940M823 158.5H940M823.5 146V159M835.5 146V159M847.5 146V159M858.5 146V159M870.5 146V159M881.5 146V159M893.5 146V159M905.5 146V159M916.5 146V159M928.5 146V159M939.5 146V159" stroke="#000" stroke-width="1.00" fill="none"/>
<rect x="823" y="164" width="13" height="13" fill="#96f514"/>
<rect x="835" y="164" width="13" height="13" fill="#c8ff78"/>
<rect x="847" y="164" width="12" height="13" fill="#96f514"/>
<rect x="858" y="164" width="13" height="13" fill="#96f514"/>
<rect x="870" y="164" width="12" height="13" fill="#78d808"/>
<rect x="881" y="164" width="13" height="13" fill="#96f514"/>
<rect x="893" y="164" width="13" height="13" fill="#96f514"/>
<rect x="905" y="164" width="12" height="13" fill="#80e008"/>
<rect x="916" y="164" width="13" height="13" fill="#96f514"/>
<rect x="928" y="164" width="12" height="13" fill="#96f514"/>
<path d="M823 164.5H940M823 176.5H940M823.5 164V177M835.5 164V177M847.5 164V177M858.5 164V177M870.5 164V177M881.5 164V177M893.5 164V177M905.5 164V177M916.5 164V177M928.5 164V177M939.5 164V177" stroke="#000" stroke-width="1.00" fill="none"/>
<rect x="823" y="181" width="13" height="13" fill="#a0c080"/>
<rect x="835" y="181" width="13" height="13" fill="#82a85a"/>
<rect x="847" y="181" width="12" height="13" fill="#82a85a"/>
<rect x="858" y="181" width="13" height="13" fill="#82a85a"/>
<rect x="870" y="181" width="12" height="13" fill="#688444"/>
<rect x="881" y="181" width="13" height="13" fill="#82a85a"/>
<rect x="893" y="181" width="13" height="13" fill="#82a85a"/>
<rect x="905" y="181" width="12" height="13" fill="#b8d0a0"/>
<rect x="916" y="181" width="13" height="13" fill="#82a85a"/>
<rect x="928" y="181" width="12" height="13" fill="#82a85a"/>
<path d="M823 181.5H940M823 193.5H940M823.5 181V194M835.5 181V194M847.5 181V194M858.5 181V194M870.5 181V194M881.5 181V194M893.5 181V194M905.5 181V194M916.5 181V194M928.5 181V194M939.5 181V194" stroke="#000" stroke-width="1.00" fill="none"/>
<rect x="823" y="198" width="13" height="13" fill="#14ffc0"/>
<rect x="835" y="198" width="13" height="13" fill="#90ffe0"/>
<rect x="847" y="198" width="12" height="13" fill="#14ffc0"/>
<rect x="858" y="198" width="13" height="13" fill="#14ffc0"/>
<rect x="870" y="198" width="12" height="13" fill="#00c8a0"/>
<rect x="881" y="198" width="13" height="13" fill="#14ffc0"/>
<rect x="893" y="198" width="13" height="13" fill="#14ffc0"/>
<rect x="905" y="198" width="12" height="13" fill="#00e8b0"/>
<rect x="916" y="198" width="13" height="13" fill="#14ffc0"/>
<rect x="928" y="198" width="12" height="13" fill="#14ffc0"/>
<path d="M823 198.5H940M823 210.5H940M823.5 198V211M835.5 198V211M847.5 198V211M858.5 198V211M870.5 198V211M881.5 198V211M893.5 198V211M905.5 198V211M916.5 198V211M928.5 198V211M939.5 198V211" stroke="#000" stroke-width="1.00" fill="none"/>
<rect x="823" y="216" width="13" height="13" fill="#20b8ff"/>
<rect x="835" y="216" width="13" height="13" fill="#20b8ff"/>
<rect x="847" y="216" width="12" height="13" fill="#50c0ff"/>
<rect x="858" y="216" width="13" height="13" fill="#20b8ff"/>
<rect x="870" y="216" width="12" height="13" fill="#a0e0ff"/>
<rect x="881" y="216" width="13" height="13" fill="#20b8ff"/>
<rect x="893" y="216" width="13" height="13" fill="#20b8ff"/>
<rect x="905" y="216" width="12" height="13" fill="#0088c0"/>
<rect x="916" y="216" width="13" height="13" fill="#20b8ff"/>
<rect x="928" y="216" width="12" height="13" fill="#20b8ff"/>
<path d="M823 216.5H940M823 228.5H940M823.5 216V229M835.5 216V229M847.5 216V229M858.5 216V229M870.5 216V229M881.5 216V229M893.5 216V229M905.5 216V229M916.5 216V229M928.5 216V229M939.5 216V229" stroke="#000" stroke-width="1.00" fill="none"/>
<rect x="823" y="233" width="13" height="13" fill="#1060f8"/>
<rect x="835" y="233" width="13" height="13" fill="#80b0ff"/>
<rect x="847" y="233" width="12" height="13" fill="#1060f8"/>
<rect x="858" y="233" width="13" height="13" fill="#1060f8"/>
<rect x="870" y="233" width="12" height="13" fill="#0850e0"/>
<rect x="881" y="233" width="13" height="13" fill="#1060f8"/>
<rect x="893" y="233" width="13" height="13" fill="#0040b8"/>
<rect x="905" y="233" width="12" height="13" fill="#1060f8"/>
<rect x="916" y="233" width="13" height="13" fill="#1060f8"/>
<rect x="928" y="233" width="12" height="13" fill="#1060f8"/>
<path d="M823 233.5H940M823 245.5H940M823.5 233V246M835.5 233V246M847.5 233V246M858.5 233V246M870.5 233V246M881.5 233V246M893.5 233V246M905.5 233V246M916.5 233V246M928.5 233V246M939.5 233V246" stroke="#000" stroke-width="1.00" fill="none"/>
<rect x="823" y="251" width="13" height="13" fill="#0000ff"/>
<rect x="835" y="251" width="13" height="13" fill="#6060ff"/>
<rect x="847" y="251" width="12" height="13" fill="#0000ff"/>
<rect x="858" y="251" width="13" height="13" fill="#8c8cff"/>
<rect x="870" y="251" width="12" height="13" fill="#0000ff"/>
<rect x="881" y="251" width="13" height="13" fill="#0000ff"/>
<rect x="893" y="251" width="13" height="13" fill="#0000c0"/>
<rect x="905" y="251" width="12" height="13" fill="#0000ff"/>
<rect x="916" y="251" width="13" height="13" fill="#000050"/>
<rect x="928" y="251" width="12" height="13" fill="#0000ff"/>
<path d="M823 251.5H940M823 263.5H940M823.5 251V264M835.5 251V264M847.5 251V264M858.5 251V264M870.5 251V264M881.5 251V264M893.5 251V264M905.5 251V264M916.5 251V264M928.5 251V264M939.5 251V264" stroke="#000" stroke-width="1.00" fill="none"/>
<rect x="823" y="268" width="13" height="13" fill="#a014f8"/>
<rect x="835" y="268" width="13" height="13" fill="#a014f8"/>
<rect x="847" y="268" width="12" height="13" fill="#c050ff"/>
<rect x="858" y="268" width="13" height="13" fill="#a014f8"/>
<rect x="870" y="268" width="12" height="13" fill="#a014f8"/>
<rect x="881" y="268" width="13" height="13" fill="#e0a0ff"/>
<rect x="893" y="268" width="13" height="13" fill="#a014f8"/>
<rect x="905" y="268" width="12" height="13" fill="#540088"/>
<rect x="916" y="268" width="13" height="13" fill="#a014f8"/>
<rect x="928" y="268" width="12" height="13" fill="#a014f8"/>
<path d="M823 268.5H940M823 280.5H940M823.5 268V281M835.5 268V281M847.5 268V281M858.5 268V281M870.5 268V281M881.5 268V281M893.5 268V281M905.5 268V281M916.5 268V281M928.5 268V281M939.5 268V281" stroke="#000" stroke-width="1.00" fill="none"/>
<rect x="823" y="285" width="13" height="13" fill="#f050f5"/>
<rect x="835" y="285" width="13" height="13" fill="#c008c8"/>
<rect x="847" y="285" width="12" height="13" fill="#f050f5"/>
<rect x="858" y="285" width="13" height="13" fill="#9000a0"/>
<rect x="870" y="285" width="12" height="13" fill="#f050f5"/>
<rect x="881" y="285" width="13" height="13" fill="#f050f5"/>
<rect x="893" y="285" width="13" height="13" fill="#ffc8ff"/>
<rect x="905" y="285" width="12" height="13" fill="#f050f5"/>
<rect x="916" y="285" width="13" height="13" fill="#f050f5"/>
<rect x="928" y="285" width="12" height="13" fill="#f050f5"/>
<path d="M823 285.5H940M823 297.5H940M823.5 285V298M835.5 285V298M847.5 285V298M858.5 285V298M870.5 285V298M881.5 285V298M893.5 285V298M905.5 285V298M916.5 285V298M928.5 285V298M939.5 285V298" stroke="#000" stroke-width="1.00" fill="none"/>
<rect x="823" y="303" width="13" height="13" fill="#a890d8"/>
<rect x="835" y="303" width="13" height="13" fill="#7850c0"/>
<rect x="847" y="303" width="12" height="13" fill="#7850c0"/>
<rect x="858" y="303" width="13" height="13" fill="#d0c0e8"/>
<rect x="870" y="303" width="12" height="13" fill="#7850c0"/>
<rect x="881" y="303" width="13" height="13" fill="#7850c0"/>
<rect x="893" y="303" width="13" height="13" fill="#7850c0"/>
<rect x="905" y="303" width="12" height="13" fill="#583890"/>
<rect x="916" y="303" width="13" height="13" fill="#7850c0"/>
<rect x="928" y="303" width="12" height="13" fill="#7850c0"/>
<path d="M823 303.5H940M823 315.5H940M823.5 303V316M835.5 303V316M847.5 303V316M858.5 303V316M870.5 303V316M881.5 303V316M893.5 303V316M905.5 303V316M916.5 303V316M928.5 303V316M939.5 303V316" stroke="#000" stroke-width="1.00" fill="none"/>
<rect x="823" y="320" width="13" height="13" fill="#6c72a0"/>
<rect x="835" y="320" width="13" height="13" fill="#9498c0"/>
<rect x="847" y="320" width="12" height="13" fill="#6c72a0"/>
<rect x="858" y="320" width="13" height="13" fill="#6c72a0"/>
<rect x="870" y="320" width="12" height="13" fill="#4c5078"/>
<rect x="881" y="320" width="13" height="13" fill="#6c72a0"/>
<rect x="893" y="320" width="13" height="13" fill="#6c72a0"/>
<rect x="905" y="320" width="12" height="13" fill="#6c72a0"/>
<rect x="916" y="320" width="13" height="13" fill="#9498c0"/>
<rect x="928" y="320" width="12" height="13" fill="#6c72a0"/>
<path d="M823 320.5H940M823 332.5H940M823.5 320V333M835.5 320V333M847.5 320V333M858.5 320V333M870.5 320V333M881.5 320V333M893.5 320V333M905.5 320V333M916.5 320V333M928.5 320V333M939.5 320V333" stroke="#000" stroke-width="1.00" fill="none"/>
<rect x="823" y="337" width="13" height="13" fill="#905088"/>
<rect x="835" y="337" width="13" height="13" fill="#c898c0"/>
<rect x="847" y="337" width="12" height="13" fill="#905088"/>
<rect x="858" y="337" width="13" height="13" fill="#905088"/>
<rect x="870" y="337" width="12" height="13" fill="#905088"/>
<rect x="881" y="337" width="13" height="13" fill="#905088"/>
<rect x="893" y="337" width="13" height="13" fill="#905088"/>
<rect x="905" y="337" width="12" height="13" fill="#603860"/>
<rect x="916" y="337" width="13" height="13" fill="#905088"/>
<rect x="928" y="337" width="12" height="13" fill="#905088"/>
<path d="M823 337.5H940M823 349.5H940M823.5 337V350M835.5 337V350M847.5 337V350M858.5 337V350M870.5 337V350M881.5 337V350M893.5 337V350M905.5 337V350M916.5 337V350M928.5 337V350M939.5 337V350" stroke="#000" stroke-width="1.00" fill="none"/>
<rect x="823" y="355" width="13" height="13" fill="#b0c040"/>
<rect x="835" y="355" width="13" height="13" fill="#b0c040"/>
<rect x="847" y="355" width="12" height="13" fill="#b0c040"/>
<rect x="858" y="355" width="13" height="13" fill="#d8e488"/>
<rect x="870" y="355" width="12" height="13" fill="#b0c040"/>
<rect x="881" y="355" width="13" height="13" fill="#b0c040"/>
<rect x="893" y="355" width="13" height="13" fill="#606820"/>
<rect x="905" y="355" width="12" height="13" fill="#b0c040"/>
<rect x="916" y="355" width="13" height="13" fill="#b0c040"/>
<rect x="928" y="355" width="12" height="13" fill="#b0c040"/>
<path d="M823 355.5H940M823 367.5H940M823.5 355V368M835.5 355V368M847.5 355V368M858.5 355V368M870.5 355V368M881.5 355V368M893.5 355V368M905.5 355V368M916.5 355V368M928.5 355V368M939.5 355V368" stroke="#000" stroke-width="1.00" fill="none"/>
<rect x="823" y="372" width="13" height="13" fill="#4068b0"/>
<rect x="835" y="372" width="13" height="13" fill="#80a0d8"/>
<rect x="847" y="372" width="12" height="13" fill="#4068b0"/>
<rect x="858" y="372" width="13" height="13" fill="#4068b0"/>
<rect x="870" y="372" width="12" height="13" fill="#284878"/>
<rect x="881" y="372" width="13" height="13" fill="#4068b0"/>
<rect x="893" y="372" width="13" height="13" fill="#4068b0"/>
<rect x="905" y="372" width="12" height="13" fill="#c8d8f0"/>
<rect x="916" y="372" width="13" height="13" fill="#4068b0"/>
<rect x="928" y="372" width="12" height="13" fill="#4068b0"/>
<path d="M823 372.5H940M823 384.5H940M823.5 372V385M835.5 372V385M847.5 372V385M858.5 372V385M870.5 372V385M881.5 372V385M893.5 372V385M905.5 372V385M916.5 372V385M928.5 372V385M939.5 372V385" stroke="#000" stroke-width="1.00" fill="none"/>
<rect x="823" y="390" width="13" height="13" fill="#b88c40"/>
<rect x="835" y="390" width="13" height="13" fill="#b88c40"/>
<rect x="847" y="390" width="12" height="13" fill="#e0c898"/>
<rect x="858" y="390" width="13" height="13" fill="#b88c40"/>
<rect x="870" y="390" width="12" height="13" fill="#b88c40"/>
<rect x="881" y="390" width="13" height="13" fill="#b88c40"/>
<rect x="893" y="390" width="13" height="13" fill="#785828"/>
<rect x="905" y="390" width="12" height="13" fill="#b88c40"/>
<rect x="916" y="390" width="13" height="13" fill="#b88c40"/>
<rect x="928" y="390" width="12" height="13" fill="#b88c40"/>
<path d="M823 390.5H940M823 402.5H940M823.5 390V403M835.5 390V403M847.5 390V403M858.5 390V403M870.5 390V403M881.5 390V403M893.5 390V403M905.5 390V403M916.5 390V403M928.5 390V403M939.5 390V403" stroke="#000" stroke-width="1.00" fill="none"/>
<rect x="823" y="407" width="13" height="13" fill="#e05070"/>
<rect x="835" y="407" width="13" height="13" fill="#f8b0c0"/>
<rect x="847" y="407" width="12" height="13" fill="#e05070"/>
<rect x="858" y="407" width="13" height="13" fill="#e05070"/>
<rect x="870" y="407" width="12" height="13" fill="#881028"/>
<rect x="881" y="407" width="13" height="13" fill="#e05070"/>
<rect x="893" y="407" width="13" height="13" fill="#e05070"/>
<rect x="905" y="407" width="12" height="13" fill="#c82040"/>
<rect x="916" y="407" width="13" height="13" fill="#e05070"/>
<rect x="928" y="407" width="12" height="13" fill="#e05070"/>
<path d="M823 407.5H940M823 419.5H940M823.5 407V420M835.5 407V420M847.5 407V420M858.5 407V420M870.5 407V420M881.5 407V420M893.5 407V420M905.5 407V420M916.5 407V420M928.5 407V420M939.5 407V420" stroke="#000" stroke-width="1.00" fill="none"/>
<path d="M943.00 252.20L966.00 252.20" stroke="#000" stroke-width="2.00" fill="none"/><path d="M971.60 252.20L964.60 256.40L966.00 252.20L964.60 248.00Z" fill="#000"/>
<rect x="972" y="218" width="86" height="69" fill="none" stroke="#000" stroke-width="2"/>
<text x="1015.35" y="250.70" font-size="11.00" font-weight="bold" text-anchor="middle" fill="#05050f" stroke="#05050f" stroke-width="0.32" textLength="77.4" lengthAdjust="spacingAndGlyphs">Spatio-Temporal</text>
<text x="1015.50" y="263.00" font-size="11.00" font-weight="bold" text-anchor="middle" fill="#05050f" stroke="#05050f" stroke-width="0.32" textLength="43.6" lengthAdjust="spacingAndGlyphs">Selection</text>
<path d="M1059.00 252.20L1080.00 252.20" stroke="#000" stroke-width="2.00" fill="none"/><path d="M1085.60 252.20L1078.60 256.40L1080.00 252.20L1078.60 248.00Z" fill="#000"/>
<rect x="1085" y="140" width="13" height="13" fill="#fd3426"/>
<rect x="1085" y="152" width="13" height="13" fill="#f2780c"/>
<rect x="1085" y="164" width="13" height="12" fill="#ffd010"/>
<rect x="1085" y="175" width="13" height="13" fill="#eef514"/>
<rect x="1085" y="187" width="13" height="12" fill="#96f514"/>
<rect x="1085" y="198" width="13" height="13" fill="#82a85a"/>
<rect x="1085" y="210" width="13" height="13" fill="#14ffc0"/>
<rect x="1085" y="222" width="13" height="12" fill="#20b8ff"/>
<rect x="1085" y="233" width="13" height="13" fill="#1060f8"/>
<rect x="1085" y="245" width="13" height="12" fill="#0000ff"/>
<rect x="1085" y="256" width="13" height="13" fill="#a014f8"/>
<rect x="1085" y="268" width="13" height="13" fill="#f050f5"/>
<rect x="1085" y="280" width="13" height="12" fill="#7850c0"/>
<rect x="1085" y="291" width="13" height="13" fill="#6c72a0"/>
<rect x="1085" y="303" width="13" height="12" fill="#905088"/>
<rect x="1085" y="314" width="13" height="13" fill="#b0c040"/>
<rect x="1085" y="326" width="13" height="13" fill="#4068b0"/>
<rect x="1085" y="338" width="13" height="12" fill="#b88c40"/>
<rect x="1085" y="349" width="13" height="13" fill="#e05070"/>
<path d="M1085 140.5H1098M1085 152.5H1098M1085 164.5H1098M1085 175.5H1098M1085 187.5H1098M1085 198.5H1098M1085 210.5H1098M1085 222.5H1098M1085 233.5H1098M1085 245.5H1098M1085 256.5H1098M1085 268.5H1098M1085 280.5H1098M1085 291.5H1098M1085 303.5H1098M1085 314.5H1098M1085 326.5H1098M1085 338.5H1098M1085 349.5H1098M1085 361.5H1098M1085.5 140V362M1097.5 140V362" stroke="#000" stroke-width="1.00" fill="none"/>
</svg>
</body></html>
